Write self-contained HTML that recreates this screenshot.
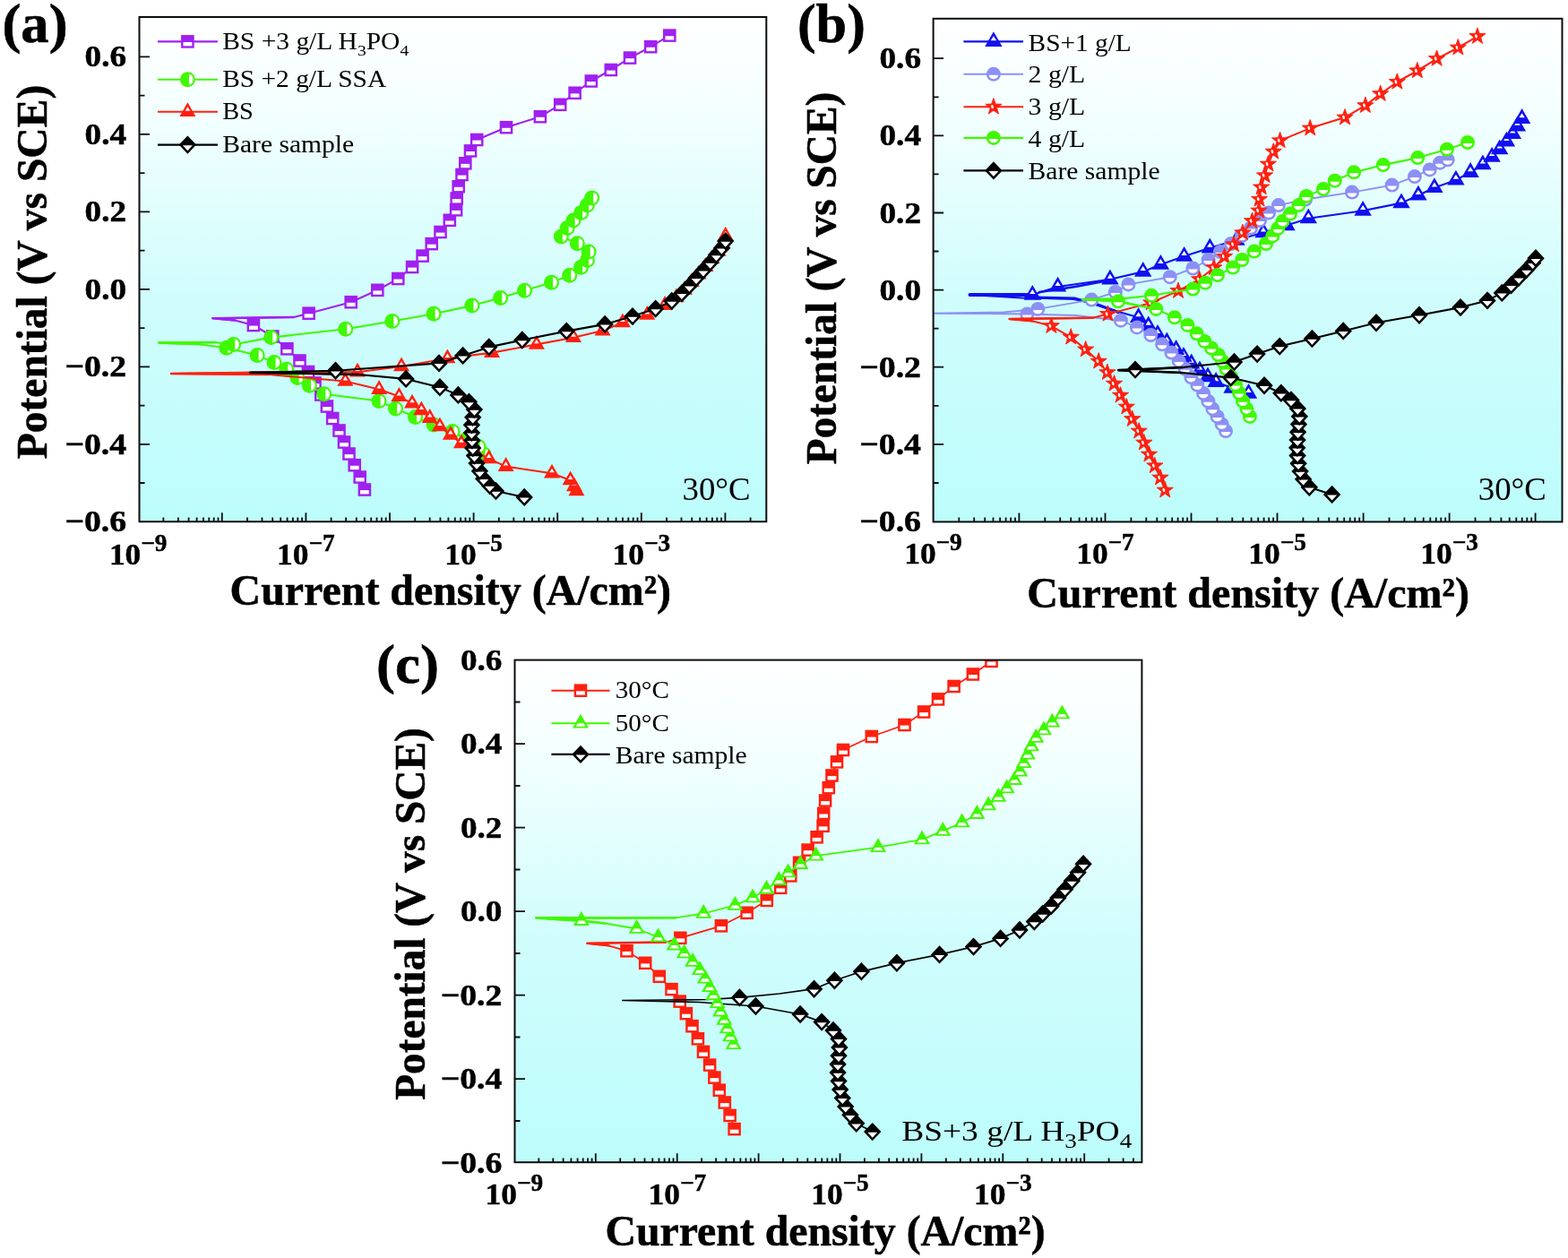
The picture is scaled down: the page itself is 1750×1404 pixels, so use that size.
<!DOCTYPE html>
<html lang="en"><head><meta charset="utf-8"><title>Potentiodynamic polarization curves</title>
<style>
html,body{margin:0;padding:0;background:#fff}
body{width:1750px;height:1404px;overflow:hidden}
svg{display:block}
text{font-family:"Liberation Serif",serif;fill:#000}
.tk{font-weight:bold;font-size:34.5px;stroke:#000;stroke-width:0.5px}
.sup{font-size:26.5px}
.ax{font-weight:bold;font-size:47.5px;stroke:#000;stroke-width:0.55px}
.pl{font-weight:bold;font-size:60.5px;stroke:#000;stroke-width:0.6px}
.lg{font-size:26.4px}
.sb{font-size:17.5px}
.nt{font-size:35.5px}
.nc{font-size:32.5px}
.sc{font-size:23.5px}
</style></head><body>
<svg width="1750" height="1404" viewBox="0 0 1750 1404" role="img" aria-label="Potentiodynamic polarization curves, panels a, b and c">
<defs><filter id="soft" x="-2%" y="-2%" width="104%" height="104%" color-interpolation-filters="sRGB"><feGaussianBlur stdDeviation="0.7"/></filter><linearGradient id="bg" x1="0" y1="0" x2="0" y2="1"><stop offset="0" stop-color="#ffffff"/><stop offset="0.18" stop-color="#f4ffff"/><stop offset="0.55" stop-color="#d0fdfc"/><stop offset="1" stop-color="#bcfdfc"/></linearGradient></defs>
<rect width="1750" height="1404" fill="#fff"/>
<g filter="url(#soft)">
<g id="panel-a">
<rect x="155.5" y="19" width="699.8" height="563.2" fill="url(#bg)"/>
<clipPath id="cpa"><rect x="155.5" y="19" width="699.8" height="563.2"/></clipPath>
<g clip-path="url(#cpa)">
<path d="M406.9 546.5L401.7 532.5L395.7 519.2L389.5 506.5L384 493.5L378.5 480.5L371.2 467L364.9 453.5L358.3 440.5L351.5 427.5L344 415L334.5 402.5L320.4 389.3L304.3 375.5L282.9 363L262 357.5L237.4 355.2L328 354L344.6 349.7L391.7 337.2L421.3 323.8L444.3 311L460.1 298L471.6 285.6L481.7 272.1L491.5 259L501.8 245.8L509.1 234.3L509.7 221.5L511.7 208.2L515.5 195L519.3 182.3L525 168.4L532.2 156L565 142.2L602.9 130.2L625.2 116.8L641.6 103.8L659.8 90.5L681.8 78L703 64.6L726.2 52.2L747.3 39.6" fill="none" stroke="#a020f0" stroke-width="2.1" stroke-linejoin="round"/>
<path d="M262 357.5L237.4 355.2L328 354" fill="none" stroke="#a020f0" stroke-width="2.6" stroke-linejoin="round" stroke-linecap="round"/>
<rect x="399.6" y="539.2" width="14.6" height="14.6" fill="#a020f0"/><rect x="402" y="547.1" width="9.8" height="4.3" fill="#fff"/><rect x="394.4" y="525.2" width="14.6" height="14.6" fill="#a020f0"/><rect x="396.8" y="533.1" width="9.8" height="4.3" fill="#fff"/><rect x="388.4" y="511.9" width="14.6" height="14.6" fill="#a020f0"/><rect x="390.8" y="519.8" width="9.8" height="4.3" fill="#fff"/><rect x="382.2" y="499.2" width="14.6" height="14.6" fill="#a020f0"/><rect x="384.6" y="507.1" width="9.8" height="4.3" fill="#fff"/><rect x="376.7" y="486.2" width="14.6" height="14.6" fill="#a020f0"/><rect x="379.1" y="494.1" width="9.8" height="4.3" fill="#fff"/><rect x="371.2" y="473.2" width="14.6" height="14.6" fill="#a020f0"/><rect x="373.6" y="481.1" width="9.8" height="4.3" fill="#fff"/><rect x="363.9" y="459.7" width="14.6" height="14.6" fill="#a020f0"/><rect x="366.3" y="467.6" width="9.8" height="4.3" fill="#fff"/><rect x="357.6" y="446.2" width="14.6" height="14.6" fill="#a020f0"/><rect x="360" y="454.1" width="9.8" height="4.3" fill="#fff"/><rect x="351" y="433.2" width="14.6" height="14.6" fill="#a020f0"/><rect x="353.4" y="441.1" width="9.8" height="4.3" fill="#fff"/><rect x="344.2" y="420.2" width="14.6" height="14.6" fill="#a020f0"/><rect x="346.6" y="428.1" width="9.8" height="4.3" fill="#fff"/><rect x="336.7" y="407.7" width="14.6" height="14.6" fill="#a020f0"/><rect x="339.1" y="415.6" width="9.8" height="4.3" fill="#fff"/><rect x="327.2" y="395.2" width="14.6" height="14.6" fill="#a020f0"/><rect x="329.6" y="403.1" width="9.8" height="4.3" fill="#fff"/><rect x="313.1" y="382" width="14.6" height="14.6" fill="#a020f0"/><rect x="315.5" y="389.9" width="9.8" height="4.3" fill="#fff"/><rect x="297" y="368.2" width="14.6" height="14.6" fill="#a020f0"/><rect x="299.4" y="376.1" width="9.8" height="4.3" fill="#fff"/><rect x="275.6" y="355.7" width="14.6" height="14.6" fill="#a020f0"/><rect x="278" y="363.6" width="9.8" height="4.3" fill="#fff"/><rect x="337.3" y="342.4" width="14.6" height="14.6" fill="#a020f0"/><rect x="339.7" y="350.3" width="9.8" height="4.3" fill="#fff"/><rect x="384.4" y="329.9" width="14.6" height="14.6" fill="#a020f0"/><rect x="386.8" y="337.8" width="9.8" height="4.3" fill="#fff"/><rect x="414" y="316.5" width="14.6" height="14.6" fill="#a020f0"/><rect x="416.4" y="324.4" width="9.8" height="4.3" fill="#fff"/><rect x="437" y="303.7" width="14.6" height="14.6" fill="#a020f0"/><rect x="439.4" y="311.6" width="9.8" height="4.3" fill="#fff"/><rect x="452.8" y="290.7" width="14.6" height="14.6" fill="#a020f0"/><rect x="455.2" y="298.6" width="9.8" height="4.3" fill="#fff"/><rect x="464.3" y="278.3" width="14.6" height="14.6" fill="#a020f0"/><rect x="466.7" y="286.2" width="9.8" height="4.3" fill="#fff"/><rect x="474.4" y="264.8" width="14.6" height="14.6" fill="#a020f0"/><rect x="476.8" y="272.7" width="9.8" height="4.3" fill="#fff"/><rect x="484.2" y="251.7" width="14.6" height="14.6" fill="#a020f0"/><rect x="486.6" y="259.6" width="9.8" height="4.3" fill="#fff"/><rect x="494.5" y="238.5" width="14.6" height="14.6" fill="#a020f0"/><rect x="496.9" y="246.4" width="9.8" height="4.3" fill="#fff"/><rect x="501.8" y="227" width="14.6" height="14.6" fill="#a020f0"/><rect x="504.2" y="234.9" width="9.8" height="4.3" fill="#fff"/><rect x="502.4" y="214.2" width="14.6" height="14.6" fill="#a020f0"/><rect x="504.8" y="222.1" width="9.8" height="4.3" fill="#fff"/><rect x="504.4" y="200.9" width="14.6" height="14.6" fill="#a020f0"/><rect x="506.8" y="208.8" width="9.8" height="4.3" fill="#fff"/><rect x="508.2" y="187.7" width="14.6" height="14.6" fill="#a020f0"/><rect x="510.6" y="195.6" width="9.8" height="4.3" fill="#fff"/><rect x="512" y="175" width="14.6" height="14.6" fill="#a020f0"/><rect x="514.4" y="182.9" width="9.8" height="4.3" fill="#fff"/><rect x="517.7" y="161.1" width="14.6" height="14.6" fill="#a020f0"/><rect x="520.1" y="169" width="9.8" height="4.3" fill="#fff"/><rect x="524.9" y="148.7" width="14.6" height="14.6" fill="#a020f0"/><rect x="527.3" y="156.6" width="9.8" height="4.3" fill="#fff"/><rect x="557.7" y="134.9" width="14.6" height="14.6" fill="#a020f0"/><rect x="560.1" y="142.8" width="9.8" height="4.3" fill="#fff"/><rect x="595.6" y="122.9" width="14.6" height="14.6" fill="#a020f0"/><rect x="598" y="130.8" width="9.8" height="4.3" fill="#fff"/><rect x="617.9" y="109.5" width="14.6" height="14.6" fill="#a020f0"/><rect x="620.3" y="117.4" width="9.8" height="4.3" fill="#fff"/><rect x="634.3" y="96.5" width="14.6" height="14.6" fill="#a020f0"/><rect x="636.7" y="104.4" width="9.8" height="4.3" fill="#fff"/><rect x="652.5" y="83.2" width="14.6" height="14.6" fill="#a020f0"/><rect x="654.9" y="91.1" width="9.8" height="4.3" fill="#fff"/><rect x="674.5" y="70.7" width="14.6" height="14.6" fill="#a020f0"/><rect x="676.9" y="78.6" width="9.8" height="4.3" fill="#fff"/><rect x="695.7" y="57.3" width="14.6" height="14.6" fill="#a020f0"/><rect x="698.1" y="65.2" width="9.8" height="4.3" fill="#fff"/><rect x="718.9" y="44.9" width="14.6" height="14.6" fill="#a020f0"/><rect x="721.3" y="52.8" width="9.8" height="4.3" fill="#fff"/><rect x="740" y="32.3" width="14.6" height="14.6" fill="#a020f0"/><rect x="742.4" y="40.2" width="9.8" height="4.3" fill="#fff"/>
<path d="M540 507L534 498.5L521 490L505 481.5L484 474L463.5 465.5L441.5 456L423 447.5L361.7 439.7L345.4 430.3L332 421.5L319.7 412.3L306 404.6L287.1 396.5L252.9 388.3L220 384L177.4 382.6L240 382L260.6 384.5L302.6 376.6L385.7 367.2L437.8 358.5L484 350.2L526.9 341.1L558.6 332.6L585.5 324.3L615.5 315.2L635.7 307.3L648.5 298.3L655.4 290.6L657.1 281.1L644.3 271.7L626.3 264L633.1 254.6L640 246L648.6 237.4L655.4 228.9L660.6 221.1" fill="none" stroke="#40f800" stroke-width="2.1" stroke-linejoin="round"/>
<path d="M220 384L177.4 382.6L240 382" fill="none" stroke="#40f800" stroke-width="2.6" stroke-linejoin="round" stroke-linecap="round"/>
<circle cx="540" cy="507" r="8.5" fill="#40f800"/><path d="M541.6 501A6.2 6.2 0 0 1 541.6 513Z" fill="#fff"/><circle cx="534" cy="498.5" r="8.5" fill="#40f800"/><path d="M535.6 492.5A6.2 6.2 0 0 1 535.6 504.5Z" fill="#fff"/><circle cx="521" cy="490" r="8.5" fill="#40f800"/><path d="M522.6 484A6.2 6.2 0 0 1 522.6 496Z" fill="#fff"/><circle cx="505" cy="481.5" r="8.5" fill="#40f800"/><path d="M506.6 475.5A6.2 6.2 0 0 1 506.6 487.5Z" fill="#fff"/><circle cx="484" cy="474" r="8.5" fill="#40f800"/><path d="M485.6 468A6.2 6.2 0 0 1 485.6 480Z" fill="#fff"/><circle cx="463.5" cy="465.5" r="8.5" fill="#40f800"/><path d="M465.1 459.5A6.2 6.2 0 0 1 465.1 471.5Z" fill="#fff"/><circle cx="441.5" cy="456" r="8.5" fill="#40f800"/><path d="M443.1 450A6.2 6.2 0 0 1 443.1 462Z" fill="#fff"/><circle cx="423" cy="447.5" r="8.5" fill="#40f800"/><path d="M424.6 441.5A6.2 6.2 0 0 1 424.6 453.5Z" fill="#fff"/><circle cx="361.7" cy="439.7" r="8.5" fill="#40f800"/><path d="M363.3 433.7A6.2 6.2 0 0 1 363.3 445.7Z" fill="#fff"/><circle cx="345.4" cy="430.3" r="8.5" fill="#40f800"/><path d="M347 424.3A6.2 6.2 0 0 1 347 436.3Z" fill="#fff"/><circle cx="332" cy="421.5" r="8.5" fill="#40f800"/><path d="M333.6 415.5A6.2 6.2 0 0 1 333.6 427.5Z" fill="#fff"/><circle cx="319.7" cy="412.3" r="8.5" fill="#40f800"/><path d="M321.3 406.3A6.2 6.2 0 0 1 321.3 418.3Z" fill="#fff"/><circle cx="306" cy="404.6" r="8.5" fill="#40f800"/><path d="M307.6 398.6A6.2 6.2 0 0 1 307.6 410.6Z" fill="#fff"/><circle cx="287.1" cy="396.5" r="8.5" fill="#40f800"/><path d="M288.7 390.5A6.2 6.2 0 0 1 288.7 402.5Z" fill="#fff"/><circle cx="252.9" cy="388.3" r="8.5" fill="#40f800"/><path d="M254.5 382.3A6.2 6.2 0 0 1 254.5 394.3Z" fill="#fff"/><circle cx="260.6" cy="384.5" r="8.5" fill="#40f800"/><path d="M262.2 378.5A6.2 6.2 0 0 1 262.2 390.5Z" fill="#fff"/><circle cx="302.6" cy="376.6" r="8.5" fill="#40f800"/><path d="M304.2 370.6A6.2 6.2 0 0 1 304.2 382.6Z" fill="#fff"/><circle cx="385.7" cy="367.2" r="8.5" fill="#40f800"/><path d="M387.3 361.2A6.2 6.2 0 0 1 387.3 373.2Z" fill="#fff"/><circle cx="437.8" cy="358.5" r="8.5" fill="#40f800"/><path d="M439.4 352.5A6.2 6.2 0 0 1 439.4 364.5Z" fill="#fff"/><circle cx="484" cy="350.2" r="8.5" fill="#40f800"/><path d="M485.6 344.2A6.2 6.2 0 0 1 485.6 356.2Z" fill="#fff"/><circle cx="526.9" cy="341.1" r="8.5" fill="#40f800"/><path d="M528.5 335.1A6.2 6.2 0 0 1 528.5 347.1Z" fill="#fff"/><circle cx="558.6" cy="332.6" r="8.5" fill="#40f800"/><path d="M560.2 326.6A6.2 6.2 0 0 1 560.2 338.6Z" fill="#fff"/><circle cx="585.5" cy="324.3" r="8.5" fill="#40f800"/><path d="M587.1 318.3A6.2 6.2 0 0 1 587.1 330.3Z" fill="#fff"/><circle cx="615.5" cy="315.2" r="8.5" fill="#40f800"/><path d="M617.1 309.2A6.2 6.2 0 0 1 617.1 321.2Z" fill="#fff"/><circle cx="635.7" cy="307.3" r="8.5" fill="#40f800"/><path d="M637.3 301.3A6.2 6.2 0 0 1 637.3 313.3Z" fill="#fff"/><circle cx="648.5" cy="298.3" r="8.5" fill="#40f800"/><path d="M650.1 292.3A6.2 6.2 0 0 1 650.1 304.3Z" fill="#fff"/><circle cx="655.4" cy="290.6" r="8.5" fill="#40f800"/><path d="M657 284.6A6.2 6.2 0 0 1 657 296.6Z" fill="#fff"/><circle cx="657.1" cy="281.1" r="8.5" fill="#40f800"/><path d="M658.7 275.1A6.2 6.2 0 0 1 658.7 287.1Z" fill="#fff"/><circle cx="644.3" cy="271.7" r="8.5" fill="#40f800"/><path d="M645.9 265.7A6.2 6.2 0 0 1 645.9 277.7Z" fill="#fff"/><circle cx="626.3" cy="264" r="8.5" fill="#40f800"/><path d="M627.9 258A6.2 6.2 0 0 1 627.9 270Z" fill="#fff"/><circle cx="633.1" cy="254.6" r="8.5" fill="#40f800"/><path d="M634.7 248.6A6.2 6.2 0 0 1 634.7 260.6Z" fill="#fff"/><circle cx="640" cy="246" r="8.5" fill="#40f800"/><path d="M641.6 240A6.2 6.2 0 0 1 641.6 252Z" fill="#fff"/><circle cx="648.6" cy="237.4" r="8.5" fill="#40f800"/><path d="M650.2 231.4A6.2 6.2 0 0 1 650.2 243.4Z" fill="#fff"/><circle cx="655.4" cy="228.9" r="8.5" fill="#40f800"/><path d="M657 222.9A6.2 6.2 0 0 1 657 234.9Z" fill="#fff"/><circle cx="660.6" cy="221.1" r="8.5" fill="#40f800"/><path d="M662.2 215.1A6.2 6.2 0 0 1 662.2 227.1Z" fill="#fff"/>
<path d="M643.4 548L640.9 542.9L636.6 536L616 528.3L564.6 520.6L545.7 512L530 503.6L514.9 494.9L502.9 485.5L490.9 476L479.7 466.6L470.3 458L460 450.3L445.4 442.6L423.1 434.6L385.4 425.5L300 418L191 417L350 415L399 415.2L448 409L499.4 400L549 393.6L598.9 384.4L640 376.8L672.6 369.1L694.9 360L722.3 351.5L742 340.6L754.8 332L764 323.4L771.9 314.8L779.7 306.2L787.5 297.6L794.5 289L801.5 280.4L806.5 271.8L809.7 263.2" fill="none" stroke="#ff2010" stroke-width="2.1" stroke-linejoin="round"/>
<path d="M300 418L191 417L350 415" fill="none" stroke="#ff2010" stroke-width="2.6" stroke-linejoin="round" stroke-linecap="round"/>
<polygon points="643.4,537.5 652.4,553.3 634.4,553.3" fill="#ff2010"/><polygon points="643.4,542.5 646.2,546.9 640.6,546.9" fill="#fff"/><polygon points="640.9,532.4 649.9,548.2 631.9,548.2" fill="#ff2010"/><polygon points="640.9,537.4 643.7,541.8 638.1,541.8" fill="#fff"/><polygon points="636.6,525.5 645.6,541.3 627.6,541.3" fill="#ff2010"/><polygon points="636.6,530.5 639.4,534.9 633.8,534.9" fill="#fff"/><polygon points="616,517.8 625,533.6 607,533.6" fill="#ff2010"/><polygon points="616,522.8 618.8,527.2 613.2,527.2" fill="#fff"/><polygon points="564.6,510.1 573.6,525.9 555.6,525.9" fill="#ff2010"/><polygon points="564.6,515.1 567.4,519.5 561.8,519.5" fill="#fff"/><polygon points="545.7,501.5 554.7,517.3 536.7,517.3" fill="#ff2010"/><polygon points="545.7,506.5 548.5,510.9 542.9,510.9" fill="#fff"/><polygon points="530,493.1 539,508.9 521,508.9" fill="#ff2010"/><polygon points="530,498.1 532.8,502.5 527.2,502.5" fill="#fff"/><polygon points="514.9,484.4 523.9,500.2 505.9,500.2" fill="#ff2010"/><polygon points="514.9,489.4 517.7,493.8 512.1,493.8" fill="#fff"/><polygon points="502.9,475 511.9,490.8 493.9,490.8" fill="#ff2010"/><polygon points="502.9,480 505.7,484.4 500.1,484.4" fill="#fff"/><polygon points="490.9,465.5 499.9,481.3 481.9,481.3" fill="#ff2010"/><polygon points="490.9,470.5 493.7,474.9 488.1,474.9" fill="#fff"/><polygon points="479.7,456.1 488.7,471.9 470.7,471.9" fill="#ff2010"/><polygon points="479.7,461.1 482.5,465.5 476.9,465.5" fill="#fff"/><polygon points="470.3,447.5 479.3,463.3 461.3,463.3" fill="#ff2010"/><polygon points="470.3,452.5 473.1,456.9 467.5,456.9" fill="#fff"/><polygon points="460,439.8 469,455.6 451,455.6" fill="#ff2010"/><polygon points="460,444.8 462.8,449.2 457.2,449.2" fill="#fff"/><polygon points="445.4,432.1 454.4,447.9 436.4,447.9" fill="#ff2010"/><polygon points="445.4,437.1 448.2,441.5 442.6,441.5" fill="#fff"/><polygon points="423.1,424.1 432.1,439.9 414.1,439.9" fill="#ff2010"/><polygon points="423.1,429.1 425.9,433.5 420.3,433.5" fill="#fff"/><polygon points="385.4,415 394.4,430.8 376.4,430.8" fill="#ff2010"/><polygon points="385.4,420 388.2,424.4 382.6,424.4" fill="#fff"/><polygon points="399,404.7 408,420.5 390,420.5" fill="#ff2010"/><polygon points="399,409.7 401.8,414.1 396.2,414.1" fill="#fff"/><polygon points="448,398.5 457,414.3 439,414.3" fill="#ff2010"/><polygon points="448,403.5 450.8,407.9 445.2,407.9" fill="#fff"/><polygon points="499.4,389.5 508.4,405.3 490.4,405.3" fill="#ff2010"/><polygon points="499.4,394.5 502.2,398.9 496.6,398.9" fill="#fff"/><polygon points="549,383.1 558,398.9 540,398.9" fill="#ff2010"/><polygon points="549,388.1 551.8,392.5 546.2,392.5" fill="#fff"/><polygon points="598.9,373.9 607.9,389.7 589.9,389.7" fill="#ff2010"/><polygon points="598.9,378.9 601.7,383.3 596.1,383.3" fill="#fff"/><polygon points="640,366.3 649,382.1 631,382.1" fill="#ff2010"/><polygon points="640,371.3 642.8,375.7 637.2,375.7" fill="#fff"/><polygon points="672.6,358.6 681.6,374.4 663.6,374.4" fill="#ff2010"/><polygon points="672.6,363.6 675.4,368 669.8,368" fill="#fff"/><polygon points="694.9,349.5 703.9,365.3 685.9,365.3" fill="#ff2010"/><polygon points="694.9,354.5 697.7,358.9 692.1,358.9" fill="#fff"/><polygon points="722.3,341 731.3,356.8 713.3,356.8" fill="#ff2010"/><polygon points="722.3,346 725.1,350.4 719.5,350.4" fill="#fff"/><polygon points="742,330.1 751,345.9 733,345.9" fill="#ff2010"/><polygon points="742,335.1 744.8,339.5 739.2,339.5" fill="#fff"/><polygon points="754.8,321.5 763.8,337.3 745.8,337.3" fill="#ff2010"/><polygon points="754.8,326.5 757.6,330.9 752,330.9" fill="#fff"/><polygon points="764,312.9 773,328.7 755,328.7" fill="#ff2010"/><polygon points="764,317.9 766.8,322.3 761.2,322.3" fill="#fff"/><polygon points="771.9,304.3 780.9,320.1 762.9,320.1" fill="#ff2010"/><polygon points="771.9,309.3 774.7,313.7 769.1,313.7" fill="#fff"/><polygon points="779.7,295.7 788.7,311.5 770.7,311.5" fill="#ff2010"/><polygon points="779.7,300.7 782.5,305.1 776.9,305.1" fill="#fff"/><polygon points="787.5,287.1 796.5,302.9 778.5,302.9" fill="#ff2010"/><polygon points="787.5,292.1 790.3,296.5 784.7,296.5" fill="#fff"/><polygon points="794.5,278.5 803.5,294.3 785.5,294.3" fill="#ff2010"/><polygon points="794.5,283.5 797.3,287.9 791.7,287.9" fill="#fff"/><polygon points="801.5,269.9 810.5,285.7 792.5,285.7" fill="#ff2010"/><polygon points="801.5,274.9 804.3,279.3 798.7,279.3" fill="#fff"/><polygon points="806.5,261.3 815.5,277.1 797.5,277.1" fill="#ff2010"/><polygon points="806.5,266.3 809.3,270.7 803.7,270.7" fill="#fff"/><polygon points="809.7,252.7 818.7,268.5 800.7,268.5" fill="#ff2010"/><polygon points="809.7,257.7 812.5,262.1 806.9,262.1" fill="#fff"/>
<path d="M585.2 554.9L553.4 548L546.6 542L539.7 534.3L535.4 525.7L532 517.1L529.4 508.6L527.7 500L526.9 491.4L526.4 482.9L526.4 474.3L527.7 465.7L529.4 457.1L523.4 448.6L511.4 440.9L490.9 432.3L453.1 422.9L400 418L279.4 415.7L374.5 413.8L490 405.4L516.6 396.9L545.7 387.4L582.8 379.5L632.3 369.6L675.1 361.9L706 353.1L731.7 344.6L749.7 336L760.9 327.4L769.4 318.9L777.1 310.3L784.9 301.7L792.6 293.1L799.4 284.6L805.4 276.9L809.7 269.1" fill="none" stroke="#000000" stroke-width="2.1" stroke-linejoin="round"/>
<path d="M400 418L279.4 415.7" fill="none" stroke="#000000" stroke-width="2.6" stroke-linejoin="round" stroke-linecap="round"/>
<polygon points="585.2,544.7 594.9,554.9 585.2,565.1 575.5,554.9" fill="#000000"/><polygon points="590.7,555.6 585.2,561.6 579.7,555.6" fill="#fff"/><polygon points="553.4,537.8 563.1,548 553.4,558.2 543.7,548" fill="#000000"/><polygon points="558.9,548.7 553.4,554.7 547.9,548.7" fill="#fff"/><polygon points="546.6,531.8 556.3,542 546.6,552.2 536.9,542" fill="#000000"/><polygon points="552.1,542.7 546.6,548.7 541.1,542.7" fill="#fff"/><polygon points="539.7,524.1 549.4,534.3 539.7,544.5 530,534.3" fill="#000000"/><polygon points="545.2,535 539.7,541 534.2,535" fill="#fff"/><polygon points="535.4,515.5 545.1,525.7 535.4,535.9 525.7,525.7" fill="#000000"/><polygon points="540.9,526.4 535.4,532.4 529.9,526.4" fill="#fff"/><polygon points="532,506.9 541.7,517.1 532,527.3 522.3,517.1" fill="#000000"/><polygon points="537.5,517.8 532,523.8 526.5,517.8" fill="#fff"/><polygon points="529.4,498.4 539.1,508.6 529.4,518.8 519.7,508.6" fill="#000000"/><polygon points="534.9,509.3 529.4,515.3 523.9,509.3" fill="#fff"/><polygon points="527.7,489.8 537.4,500 527.7,510.2 518,500" fill="#000000"/><polygon points="533.2,500.7 527.7,506.7 522.2,500.7" fill="#fff"/><polygon points="526.9,481.2 536.6,491.4 526.9,501.6 517.2,491.4" fill="#000000"/><polygon points="532.4,492.1 526.9,498.1 521.4,492.1" fill="#fff"/><polygon points="526.4,472.7 536.1,482.9 526.4,493.1 516.7,482.9" fill="#000000"/><polygon points="531.9,483.6 526.4,489.6 520.9,483.6" fill="#fff"/><polygon points="526.4,464.1 536.1,474.3 526.4,484.5 516.7,474.3" fill="#000000"/><polygon points="531.9,475 526.4,481 520.9,475" fill="#fff"/><polygon points="527.7,455.5 537.4,465.7 527.7,475.9 518,465.7" fill="#000000"/><polygon points="533.2,466.4 527.7,472.4 522.2,466.4" fill="#fff"/><polygon points="529.4,446.9 539.1,457.1 529.4,467.3 519.7,457.1" fill="#000000"/><polygon points="534.9,457.8 529.4,463.8 523.9,457.8" fill="#fff"/><polygon points="523.4,438.4 533.1,448.6 523.4,458.8 513.7,448.6" fill="#000000"/><polygon points="528.9,449.3 523.4,455.3 517.9,449.3" fill="#fff"/><polygon points="511.4,430.7 521.1,440.9 511.4,451.1 501.7,440.9" fill="#000000"/><polygon points="516.9,441.6 511.4,447.6 505.9,441.6" fill="#fff"/><polygon points="490.9,422.1 500.6,432.3 490.9,442.5 481.2,432.3" fill="#000000"/><polygon points="496.4,433 490.9,439 485.4,433" fill="#fff"/><polygon points="453.1,412.7 462.8,422.9 453.1,433.1 443.4,422.9" fill="#000000"/><polygon points="458.6,423.6 453.1,429.6 447.6,423.6" fill="#fff"/><polygon points="374.5,403.6 384.2,413.8 374.5,424 364.8,413.8" fill="#000000"/><polygon points="380,414.5 374.5,420.5 369,414.5" fill="#fff"/><polygon points="490,395.2 499.7,405.4 490,415.6 480.3,405.4" fill="#000000"/><polygon points="495.5,406.1 490,412.1 484.5,406.1" fill="#fff"/><polygon points="516.6,386.7 526.3,396.9 516.6,407.1 506.9,396.9" fill="#000000"/><polygon points="522.1,397.6 516.6,403.6 511.1,397.6" fill="#fff"/><polygon points="545.7,377.2 555.4,387.4 545.7,397.6 536,387.4" fill="#000000"/><polygon points="551.2,388.1 545.7,394.1 540.2,388.1" fill="#fff"/><polygon points="582.8,369.3 592.5,379.5 582.8,389.7 573.1,379.5" fill="#000000"/><polygon points="588.3,380.2 582.8,386.2 577.3,380.2" fill="#fff"/><polygon points="632.3,359.4 642,369.6 632.3,379.8 622.6,369.6" fill="#000000"/><polygon points="637.8,370.3 632.3,376.3 626.8,370.3" fill="#fff"/><polygon points="675.1,351.7 684.8,361.9 675.1,372.1 665.4,361.9" fill="#000000"/><polygon points="680.6,362.6 675.1,368.6 669.6,362.6" fill="#fff"/><polygon points="706,342.9 715.7,353.1 706,363.3 696.3,353.1" fill="#000000"/><polygon points="711.5,353.8 706,359.8 700.5,353.8" fill="#fff"/><polygon points="731.7,334.4 741.4,344.6 731.7,354.8 722,344.6" fill="#000000"/><polygon points="737.2,345.3 731.7,351.3 726.2,345.3" fill="#fff"/><polygon points="749.7,325.8 759.4,336 749.7,346.2 740,336" fill="#000000"/><polygon points="755.2,336.7 749.7,342.7 744.2,336.7" fill="#fff"/><polygon points="760.9,317.2 770.6,327.4 760.9,337.6 751.2,327.4" fill="#000000"/><polygon points="766.4,328.1 760.9,334.1 755.4,328.1" fill="#fff"/><polygon points="769.4,308.7 779.1,318.9 769.4,329.1 759.7,318.9" fill="#000000"/><polygon points="774.9,319.6 769.4,325.6 763.9,319.6" fill="#fff"/><polygon points="777.1,300.1 786.8,310.3 777.1,320.5 767.4,310.3" fill="#000000"/><polygon points="782.6,311 777.1,317 771.6,311" fill="#fff"/><polygon points="784.9,291.5 794.6,301.7 784.9,311.9 775.2,301.7" fill="#000000"/><polygon points="790.4,302.4 784.9,308.4 779.4,302.4" fill="#fff"/><polygon points="792.6,282.9 802.3,293.1 792.6,303.3 782.9,293.1" fill="#000000"/><polygon points="798.1,293.8 792.6,299.8 787.1,293.8" fill="#fff"/><polygon points="799.4,274.4 809.1,284.6 799.4,294.8 789.7,284.6" fill="#000000"/><polygon points="804.9,285.3 799.4,291.3 793.9,285.3" fill="#fff"/><polygon points="805.4,266.7 815.1,276.9 805.4,287.1 795.7,276.9" fill="#000000"/><polygon points="810.9,277.6 805.4,283.6 799.9,277.6" fill="#fff"/><polygon points="809.7,258.9 819.4,269.1 809.7,279.3 800,269.1" fill="#000000"/><polygon points="815.2,269.8 809.7,275.8 804.2,269.8" fill="#fff"/>
</g>
<path d="M155.5 539h6M155.5 495.8h11.5M155.5 452.6h6M155.5 409.3h11.5M155.5 366.1h6M155.5 322.8h11.5M155.5 279.6h6M155.5 236.3h11.5M155.5 193.1h6M155.5 149.8h11.5M155.5 106.6h6M155.5 63.3h11.5M182.4 582.2v-4.8M198.9 582.2v-4.8M210.6 582.2v-4.8M219.6 582.2v-4.8M227 582.2v-4.8M233.3 582.2v-4.8M238.7 582.2v-4.8M243.5 582.2v-4.8M247.8 582.2v-10M276 582.2v-4.8M292.5 582.2v-4.8M304.2 582.2v-4.8M313.2 582.2v-4.8M320.6 582.2v-4.8M326.9 582.2v-4.8M332.3 582.2v-4.8M337.1 582.2v-4.8M341.4 582.2v-10M369.6 582.2v-4.8M386.1 582.2v-4.8M397.8 582.2v-4.8M406.8 582.2v-4.8M414.2 582.2v-4.8M420.5 582.2v-4.8M425.9 582.2v-4.8M430.7 582.2v-4.8M435 582.2v-10M463.2 582.2v-4.8M479.7 582.2v-4.8M491.4 582.2v-4.8M500.4 582.2v-4.8M507.8 582.2v-4.8M514.1 582.2v-4.8M519.5 582.2v-4.8M524.3 582.2v-4.8M528.6 582.2v-10M556.8 582.2v-4.8M573.3 582.2v-4.8M585 582.2v-4.8M594 582.2v-4.8M601.4 582.2v-4.8M607.7 582.2v-4.8M613.1 582.2v-4.8M617.9 582.2v-4.8M622.2 582.2v-10M650.4 582.2v-4.8M666.9 582.2v-4.8M678.6 582.2v-4.8M687.6 582.2v-4.8M695 582.2v-4.8M701.3 582.2v-4.8M706.7 582.2v-4.8M711.5 582.2v-4.8M715.8 582.2v-10M744 582.2v-4.8M760.5 582.2v-4.8M772.2 582.2v-4.8M781.2 582.2v-4.8M788.6 582.2v-4.8M794.9 582.2v-4.8M800.3 582.2v-4.8M805.1 582.2v-4.8M809.4 582.2v-10M837.6 582.2v-4.8" stroke="#0d0d0d" stroke-width="1.8" fill="none"/>
<rect x="155.5" y="19" width="699.8" height="563.2" fill="none" stroke="#0d0d0d" stroke-width="2"/>
<text class="tk" x="72.4" y="593.3" textLength="68.7" lengthAdjust="spacingAndGlyphs">−0.6</text>
<text class="tk" x="72.4" y="506.8" textLength="68.7" lengthAdjust="spacingAndGlyphs">−0.4</text>
<text class="tk" x="72.4" y="420.3" textLength="68.7" lengthAdjust="spacingAndGlyphs">−0.2</text>
<text class="tk" x="94.6" y="333.8" textLength="46.5" lengthAdjust="spacingAndGlyphs">0.0</text>
<text class="tk" x="94.6" y="247.3" textLength="46.5" lengthAdjust="spacingAndGlyphs">0.2</text>
<text class="tk" x="94.6" y="160.8" textLength="46.5" lengthAdjust="spacingAndGlyphs">0.4</text>
<text class="tk" x="94.6" y="74.3" textLength="46.5" lengthAdjust="spacingAndGlyphs">0.6</text>
<text class="tk" x="121.9" y="629.5" textLength="64.5" lengthAdjust="spacingAndGlyphs">10<tspan class="sup" dy="-15">−9</tspan></text>
<text class="tk" x="309.1" y="629.5" textLength="64.5" lengthAdjust="spacingAndGlyphs">10<tspan class="sup" dy="-15">−7</tspan></text>
<text class="tk" x="496.3" y="629.5" textLength="64.5" lengthAdjust="spacingAndGlyphs">10<tspan class="sup" dy="-15">−5</tspan></text>
<text class="tk" x="683.5" y="629.5" textLength="64.5" lengthAdjust="spacingAndGlyphs">10<tspan class="sup" dy="-15">−3</tspan></text>
<text class="ax" x="256.6" y="674.9" textLength="492.4" lengthAdjust="spacingAndGlyphs">Current density (A/cm²)</text>
<text class="ax" transform="translate(52 512.3) rotate(-90)" textLength="417.5" lengthAdjust="spacingAndGlyphs">Potential (V vs SCE)</text>
<text class="pl" x="2.4" y="47.3" textLength="73.2" lengthAdjust="spacingAndGlyphs">(a)</text>
<path d="M176 46.4H242.9" stroke="#a020f0" stroke-width="2.1"/>
<rect x="202.1" y="39.1" width="14.6" height="14.6" fill="#a020f0"/><rect x="204.5" y="47" width="9.8" height="4.3" fill="#fff"/>
<text class="lg" x="248.2" y="55" textLength="208" lengthAdjust="spacingAndGlyphs">BS +3 g/L H<tspan class="sb" dy="7">3</tspan><tspan dy="-7">PO</tspan><tspan class="sb" dy="7">4</tspan></text>
<path d="M176 88.8H242.9" stroke="#40f800" stroke-width="2.1"/>
<circle cx="209.4" cy="88.8" r="8.5" fill="#40f800"/><path d="M211 82.8A6.2 6.2 0 0 1 211 94.8Z" fill="#fff"/>
<text class="lg" x="248.2" y="97" textLength="183" lengthAdjust="spacingAndGlyphs">BS +2 g/L SSA</text>
<path d="M176 124.8H242.9" stroke="#ff2010" stroke-width="2.1"/>
<polygon points="209.4,114.3 218.4,130.1 200.4,130.1" fill="#ff2010"/><polygon points="209.4,119.3 212.2,123.7 206.6,123.7" fill="#fff"/>
<text class="lg" x="248.2" y="133.4" textLength="34.6" lengthAdjust="spacingAndGlyphs">BS</text>
<path d="M176 161.6H242.9" stroke="#000000" stroke-width="2.1"/>
<polygon points="209.4,151.4 219.1,161.6 209.4,171.8 199.7,161.6" fill="#000000"/><polygon points="214.9,162.3 209.4,168.3 203.9,162.3" fill="#fff"/>
<text class="lg" x="248.2" y="170.4" textLength="147" lengthAdjust="spacingAndGlyphs">Bare sample</text>
<text class="nt" x="761.6" y="558.4" textLength="76" lengthAdjust="spacingAndGlyphs">30°C</text>
</g>
<g id="panel-b">
<rect x="1041.6" y="20.8" width="701.9" height="561.6" fill="url(#bg)"/>
<clipPath id="cpb"><rect x="1041.6" y="20.8" width="701.9" height="561.6"/></clipPath>
<g clip-path="url(#cpb)">
<path d="M1393.5 439.1L1375 433.1L1357.1 426.3L1348 420.6L1339 413.6L1329.7 405.8L1321 398.1L1312.6 390.3L1302.3 381.8L1292 373.2L1281.7 363.8L1270.6 354.3L1245 347L1210 336L1195 333.5L1140 332.5L1082.5 328.9L1140 328L1152.3 329.1L1180.6 320L1238.9 311.8L1275.7 303.2L1295.4 295.2L1321.6 286.1L1350.3 276.8L1380 268.1L1410 259.6L1436 251.6L1460.3 243.7L1521.1 235.2L1564 226.6L1582.9 218L1600.9 209.5L1624.9 200.9L1641.1 192.3L1654.9 183.7L1665.1 175.2L1673.7 166.6L1681.4 158L1688.3 149.5L1693.4 140.9L1698.6 132.3" fill="none" stroke="#1010f0" stroke-width="2.1" stroke-linejoin="round"/>
<path d="M1082.5 329L1150 329.2" fill="none" stroke="#1010f0" stroke-width="4.0" stroke-linejoin="round" stroke-linecap="round"/>
<path d="M1145 331.8L1200 333.2L1225 340L1248 348.5" fill="none" stroke="#1010f0" stroke-width="3.2" stroke-linejoin="round" stroke-linecap="round"/>
<path d="M1160 326L1200 320L1240 312.5" fill="none" stroke="#1010f0" stroke-width="2.6" stroke-linejoin="round" stroke-linecap="round"/>
<polygon points="1393.5,427.9 1403.2,444.7 1383.8,444.7" fill="#1010f0"/><polygon points="1393.5,433 1396.7,438 1390.3,438" fill="#fff"/><polygon points="1375,421.9 1384.7,438.7 1365.3,438.7" fill="#1010f0"/><polygon points="1375,427 1378.2,432 1371.8,432" fill="#fff"/><polygon points="1357.1,415.1 1366.8,431.9 1347.4,431.9" fill="#1010f0"/><polygon points="1357.1,420.2 1360.3,425.2 1353.9,425.2" fill="#fff"/><polygon points="1348,409.4 1357.7,426.2 1338.3,426.2" fill="#1010f0"/><polygon points="1348,414.5 1351.2,419.5 1344.8,419.5" fill="#fff"/><polygon points="1339,402.4 1348.7,419.2 1329.3,419.2" fill="#1010f0"/><polygon points="1339,407.5 1342.2,412.5 1335.8,412.5" fill="#fff"/><polygon points="1329.7,394.6 1339.4,411.4 1320,411.4" fill="#1010f0"/><polygon points="1329.7,399.7 1332.9,404.7 1326.5,404.7" fill="#fff"/><polygon points="1321,386.9 1330.7,403.7 1311.3,403.7" fill="#1010f0"/><polygon points="1321,392 1324.2,397 1317.8,397" fill="#fff"/><polygon points="1312.6,379.1 1322.3,395.9 1302.9,395.9" fill="#1010f0"/><polygon points="1312.6,384.2 1315.8,389.2 1309.4,389.2" fill="#fff"/><polygon points="1302.3,370.6 1312,387.4 1292.6,387.4" fill="#1010f0"/><polygon points="1302.3,375.7 1305.5,380.7 1299.1,380.7" fill="#fff"/><polygon points="1292,362 1301.7,378.8 1282.3,378.8" fill="#1010f0"/><polygon points="1292,367.1 1295.2,372.1 1288.8,372.1" fill="#fff"/><polygon points="1281.7,352.6 1291.4,369.4 1272,369.4" fill="#1010f0"/><polygon points="1281.7,357.7 1284.9,362.7 1278.5,362.7" fill="#fff"/><polygon points="1270.6,343.1 1280.3,359.9 1260.9,359.9" fill="#1010f0"/><polygon points="1270.6,348.2 1273.8,353.2 1267.4,353.2" fill="#fff"/><polygon points="1152.3,317.9 1162,334.7 1142.6,334.7" fill="#1010f0"/><polygon points="1152.3,323 1155.5,328 1149.1,328" fill="#fff"/><polygon points="1180.6,308.8 1190.3,325.6 1170.9,325.6" fill="#1010f0"/><polygon points="1180.6,313.9 1183.8,318.9 1177.4,318.9" fill="#fff"/><polygon points="1238.9,300.6 1248.6,317.4 1229.2,317.4" fill="#1010f0"/><polygon points="1238.9,305.7 1242.1,310.7 1235.7,310.7" fill="#fff"/><polygon points="1275.7,292 1285.4,308.8 1266,308.8" fill="#1010f0"/><polygon points="1275.7,297.1 1278.9,302.1 1272.5,302.1" fill="#fff"/><polygon points="1295.4,284 1305.1,300.8 1285.7,300.8" fill="#1010f0"/><polygon points="1295.4,289.1 1298.6,294.1 1292.2,294.1" fill="#fff"/><polygon points="1321.6,274.9 1331.3,291.7 1311.9,291.7" fill="#1010f0"/><polygon points="1321.6,280 1324.8,285 1318.4,285" fill="#fff"/><polygon points="1350.3,265.6 1360,282.4 1340.6,282.4" fill="#1010f0"/><polygon points="1350.3,270.7 1353.5,275.7 1347.1,275.7" fill="#fff"/><polygon points="1380,256.9 1389.7,273.7 1370.3,273.7" fill="#1010f0"/><polygon points="1380,262 1383.2,267 1376.8,267" fill="#fff"/><polygon points="1410,248.4 1419.7,265.2 1400.3,265.2" fill="#1010f0"/><polygon points="1410,253.5 1413.2,258.5 1406.8,258.5" fill="#fff"/><polygon points="1436,240.4 1445.7,257.2 1426.3,257.2" fill="#1010f0"/><polygon points="1436,245.5 1439.2,250.5 1432.8,250.5" fill="#fff"/><polygon points="1460.3,232.5 1470,249.3 1450.6,249.3" fill="#1010f0"/><polygon points="1460.3,237.6 1463.5,242.6 1457.1,242.6" fill="#fff"/><polygon points="1521.1,224 1530.8,240.8 1511.4,240.8" fill="#1010f0"/><polygon points="1521.1,229.1 1524.3,234.1 1517.9,234.1" fill="#fff"/><polygon points="1564,215.4 1573.7,232.2 1554.3,232.2" fill="#1010f0"/><polygon points="1564,220.5 1567.2,225.5 1560.8,225.5" fill="#fff"/><polygon points="1582.9,206.8 1592.6,223.6 1573.2,223.6" fill="#1010f0"/><polygon points="1582.9,211.9 1586.1,216.9 1579.7,216.9" fill="#fff"/><polygon points="1600.9,198.3 1610.6,215.1 1591.2,215.1" fill="#1010f0"/><polygon points="1600.9,203.4 1604.1,208.4 1597.7,208.4" fill="#fff"/><polygon points="1624.9,189.7 1634.6,206.5 1615.2,206.5" fill="#1010f0"/><polygon points="1624.9,194.8 1628.1,199.8 1621.7,199.8" fill="#fff"/><polygon points="1641.1,181.1 1650.8,197.9 1631.4,197.9" fill="#1010f0"/><polygon points="1641.1,186.2 1644.3,191.2 1637.9,191.2" fill="#fff"/><polygon points="1654.9,172.5 1664.6,189.3 1645.2,189.3" fill="#1010f0"/><polygon points="1654.9,177.6 1658.1,182.6 1651.7,182.6" fill="#fff"/><polygon points="1665.1,164 1674.8,180.8 1655.4,180.8" fill="#1010f0"/><polygon points="1665.1,169.1 1668.3,174.1 1661.9,174.1" fill="#fff"/><polygon points="1673.7,155.4 1683.4,172.2 1664,172.2" fill="#1010f0"/><polygon points="1673.7,160.5 1676.9,165.5 1670.5,165.5" fill="#fff"/><polygon points="1681.4,146.8 1691.1,163.6 1671.7,163.6" fill="#1010f0"/><polygon points="1681.4,151.9 1684.6,156.9 1678.2,156.9" fill="#fff"/><polygon points="1688.3,138.3 1698,155.1 1678.6,155.1" fill="#1010f0"/><polygon points="1688.3,143.4 1691.5,148.4 1685.1,148.4" fill="#fff"/><polygon points="1693.4,129.7 1703.1,146.5 1683.7,146.5" fill="#1010f0"/><polygon points="1693.4,134.8 1696.6,139.8 1690.2,139.8" fill="#fff"/><polygon points="1698.6,121.1 1708.3,137.9 1688.9,137.9" fill="#1010f0"/><polygon points="1698.6,126.2 1701.8,131.2 1695.4,131.2" fill="#fff"/>
<path d="M1368 481.1L1363.7 473.4L1358.6 464.9L1353.4 456.3L1348.3 447.7L1343.1 439.1L1336.3 429.7L1329.4 421.1L1322.6 411.7L1315.7 403.1L1307.4 393.5L1297.1 384.3L1284.3 374L1268.9 365.4L1250.9 357.7L1200 352L1146.3 350.5L1100 350L1041.4 349.7L1120 348.5L1158.3 344.9L1218.3 334.6L1244.9 326L1259.4 317.4L1305.7 309.2L1331.4 299.5L1348.6 290L1362 281L1374 272L1386 263L1396 254.5L1406 246L1416 237.5L1426.9 229.1L1457 222.5L1509 214.6L1553.6 206.6L1578.9 197.1L1595.6 189.4L1607.1 181.7L1615.7 178.3" fill="none" stroke="#8c90f4" stroke-width="1.9" stroke-linejoin="round"/>
<circle cx="1368" cy="481.1" r="8" fill="#8c90f4"/><path d="M1362.7 482.1A5.4 5.4 0 0 0 1373.3 482.1Z" fill="#fff"/><circle cx="1363.7" cy="473.4" r="8" fill="#8c90f4"/><path d="M1358.4 474.4A5.4 5.4 0 0 0 1369 474.4Z" fill="#fff"/><circle cx="1358.6" cy="464.9" r="8" fill="#8c90f4"/><path d="M1353.3 465.9A5.4 5.4 0 0 0 1363.9 465.9Z" fill="#fff"/><circle cx="1353.4" cy="456.3" r="8" fill="#8c90f4"/><path d="M1348.1 457.3A5.4 5.4 0 0 0 1358.7 457.3Z" fill="#fff"/><circle cx="1348.3" cy="447.7" r="8" fill="#8c90f4"/><path d="M1343 448.7A5.4 5.4 0 0 0 1353.6 448.7Z" fill="#fff"/><circle cx="1343.1" cy="439.1" r="8" fill="#8c90f4"/><path d="M1337.8 440.1A5.4 5.4 0 0 0 1348.4 440.1Z" fill="#fff"/><circle cx="1336.3" cy="429.7" r="8" fill="#8c90f4"/><path d="M1331 430.7A5.4 5.4 0 0 0 1341.6 430.7Z" fill="#fff"/><circle cx="1329.4" cy="421.1" r="8" fill="#8c90f4"/><path d="M1324.1 422.1A5.4 5.4 0 0 0 1334.7 422.1Z" fill="#fff"/><circle cx="1322.6" cy="411.7" r="8" fill="#8c90f4"/><path d="M1317.3 412.7A5.4 5.4 0 0 0 1327.9 412.7Z" fill="#fff"/><circle cx="1315.7" cy="403.1" r="8" fill="#8c90f4"/><path d="M1310.4 404.1A5.4 5.4 0 0 0 1321 404.1Z" fill="#fff"/><circle cx="1307.4" cy="393.5" r="8" fill="#8c90f4"/><path d="M1302.1 394.5A5.4 5.4 0 0 0 1312.7 394.5Z" fill="#fff"/><circle cx="1297.1" cy="384.3" r="8" fill="#8c90f4"/><path d="M1291.8 385.3A5.4 5.4 0 0 0 1302.4 385.3Z" fill="#fff"/><circle cx="1284.3" cy="374" r="8" fill="#8c90f4"/><path d="M1279 375A5.4 5.4 0 0 0 1289.6 375Z" fill="#fff"/><circle cx="1268.9" cy="365.4" r="8" fill="#8c90f4"/><path d="M1263.6 366.4A5.4 5.4 0 0 0 1274.2 366.4Z" fill="#fff"/><circle cx="1250.9" cy="357.7" r="8" fill="#8c90f4"/><path d="M1245.6 358.7A5.4 5.4 0 0 0 1256.2 358.7Z" fill="#fff"/><circle cx="1146.3" cy="350.5" r="8" fill="#8c90f4"/><path d="M1141 351.5A5.4 5.4 0 0 0 1151.6 351.5Z" fill="#fff"/><circle cx="1158.3" cy="344.9" r="8" fill="#8c90f4"/><path d="M1153 345.9A5.4 5.4 0 0 0 1163.6 345.9Z" fill="#fff"/><circle cx="1218.3" cy="334.6" r="8" fill="#8c90f4"/><path d="M1213 335.6A5.4 5.4 0 0 0 1223.6 335.6Z" fill="#fff"/><circle cx="1244.9" cy="326" r="8" fill="#8c90f4"/><path d="M1239.6 327A5.4 5.4 0 0 0 1250.2 327Z" fill="#fff"/><circle cx="1259.4" cy="317.4" r="8" fill="#8c90f4"/><path d="M1254.1 318.4A5.4 5.4 0 0 0 1264.7 318.4Z" fill="#fff"/><circle cx="1305.7" cy="309.2" r="8" fill="#8c90f4"/><path d="M1300.4 310.2A5.4 5.4 0 0 0 1311 310.2Z" fill="#fff"/><circle cx="1331.4" cy="299.5" r="8" fill="#8c90f4"/><path d="M1326.1 300.5A5.4 5.4 0 0 0 1336.7 300.5Z" fill="#fff"/><circle cx="1348.6" cy="290" r="8" fill="#8c90f4"/><path d="M1343.3 291A5.4 5.4 0 0 0 1353.9 291Z" fill="#fff"/><circle cx="1362" cy="281" r="8" fill="#8c90f4"/><path d="M1356.7 282A5.4 5.4 0 0 0 1367.3 282Z" fill="#fff"/><circle cx="1374" cy="272" r="8" fill="#8c90f4"/><path d="M1368.7 273A5.4 5.4 0 0 0 1379.3 273Z" fill="#fff"/><circle cx="1386" cy="263" r="8" fill="#8c90f4"/><path d="M1380.7 264A5.4 5.4 0 0 0 1391.3 264Z" fill="#fff"/><circle cx="1396" cy="254.5" r="8" fill="#8c90f4"/><path d="M1390.7 255.5A5.4 5.4 0 0 0 1401.3 255.5Z" fill="#fff"/><circle cx="1406" cy="246" r="8" fill="#8c90f4"/><path d="M1400.7 247A5.4 5.4 0 0 0 1411.3 247Z" fill="#fff"/><circle cx="1416" cy="237.5" r="8" fill="#8c90f4"/><path d="M1410.7 238.5A5.4 5.4 0 0 0 1421.3 238.5Z" fill="#fff"/><circle cx="1426.9" cy="229.1" r="8" fill="#8c90f4"/><path d="M1421.6 230.1A5.4 5.4 0 0 0 1432.2 230.1Z" fill="#fff"/><circle cx="1457" cy="222.5" r="8" fill="#8c90f4"/><path d="M1451.7 223.5A5.4 5.4 0 0 0 1462.3 223.5Z" fill="#fff"/><circle cx="1509" cy="214.6" r="8" fill="#8c90f4"/><path d="M1503.7 215.6A5.4 5.4 0 0 0 1514.3 215.6Z" fill="#fff"/><circle cx="1553.6" cy="206.6" r="8" fill="#8c90f4"/><path d="M1548.3 207.6A5.4 5.4 0 0 0 1558.9 207.6Z" fill="#fff"/><circle cx="1578.9" cy="197.1" r="8" fill="#8c90f4"/><path d="M1573.6 198.1A5.4 5.4 0 0 0 1584.2 198.1Z" fill="#fff"/><circle cx="1595.6" cy="189.4" r="8" fill="#8c90f4"/><path d="M1590.3 190.4A5.4 5.4 0 0 0 1600.9 190.4Z" fill="#fff"/><circle cx="1607.1" cy="181.7" r="8" fill="#8c90f4"/><path d="M1601.8 182.7A5.4 5.4 0 0 0 1612.4 182.7Z" fill="#fff"/><circle cx="1615.7" cy="178.3" r="8" fill="#8c90f4"/><path d="M1610.4 179.3A5.4 5.4 0 0 0 1621 179.3Z" fill="#fff"/>
<path d="M1300.3 547.1L1295 533.2L1288.8 519.9L1282.5 507.2L1276.8 494.2L1271.2 481.2L1263.7 467.7L1257.3 454.2L1250.5 441.2L1243.6 428.2L1235.9 415.7L1226.2 403.2L1211.7 390.1L1195.2 376.3L1173.3 363.8L1151.9 358.3L1126.7 356L1219.5 354.8L1236.5 350.5L1284.7 338L1315 324.6L1338.6 311.8L1354.8 298.8L1366.6 286.4L1376.9 272.9L1386.9 259.8L1397.5 246.7L1405 235.2L1405.6 222.4L1407.6 209.1L1411.5 195.9L1415.4 183.2L1421.3 169.3L1428.6 156.9L1462.2 143.1L1501 131.1L1523.9 117.7L1540.7 104.8L1559.3 91.5L1581.8 79L1603.6 65.6L1627.3 53.2L1648.9 40.6" fill="none" stroke="#ff2010" stroke-width="2.1" stroke-linejoin="round"/>
<path d="M1151.9 358.3L1126.7 356L1219.5 354.8" fill="none" stroke="#ff2010" stroke-width="2.6" stroke-linejoin="round" stroke-linecap="round"/>
<polygon points="1300.3,537.5 1302.6,544 1309.4,544.2 1304,548.4 1305.9,554.9 1300.3,551.1 1294.7,554.9 1296.6,548.4 1291.2,544.2 1298,544" fill="#ff2010" stroke="#ff2010" stroke-width="0.9" stroke-linejoin="round"/><ellipse cx="1298.9" cy="546.9" rx="1.3" ry="2.2" transform="rotate(-15 1298.9 546.9)" fill="#fff"/><polygon points="1295,523.6 1297.3,530 1304.1,530.2 1298.7,534.4 1300.6,540.9 1295,537.1 1289.3,540.9 1291.2,534.4 1285.8,530.2 1292.7,530" fill="#ff2010" stroke="#ff2010" stroke-width="0.9" stroke-linejoin="round"/><ellipse cx="1293.6" cy="533" rx="1.3" ry="2.2" transform="rotate(-15 1293.6 533)" fill="#fff"/><polygon points="1288.8,510.3 1291.1,516.7 1298,516.9 1292.6,521.1 1294.5,527.6 1288.8,523.8 1283.2,527.6 1285.1,521.1 1279.7,516.9 1286.5,516.7" fill="#ff2010" stroke="#ff2010" stroke-width="0.9" stroke-linejoin="round"/><ellipse cx="1287.4" cy="519.7" rx="1.3" ry="2.2" transform="rotate(-15 1287.4 519.7)" fill="#fff"/><polygon points="1282.5,497.6 1284.8,504 1291.6,504.2 1286.2,508.4 1288.1,514.9 1282.5,511.1 1276.8,514.9 1278.7,508.4 1273.4,504.2 1280.2,504" fill="#ff2010" stroke="#ff2010" stroke-width="0.9" stroke-linejoin="round"/><ellipse cx="1281.1" cy="507" rx="1.3" ry="2.2" transform="rotate(-15 1281.1 507)" fill="#fff"/><polygon points="1276.8,484.6 1279.2,491 1286,491.2 1280.6,495.4 1282.5,501.9 1276.8,498.1 1271.2,501.9 1273.1,495.4 1267.7,491.2 1274.5,491" fill="#ff2010" stroke="#ff2010" stroke-width="0.9" stroke-linejoin="round"/><ellipse cx="1275.4" cy="494" rx="1.3" ry="2.2" transform="rotate(-15 1275.4 494)" fill="#fff"/><polygon points="1271.2,471.6 1273.5,478 1280.3,478.2 1275,482.4 1276.9,489 1271.2,485.1 1265.6,489 1267.5,482.4 1262.1,478.2 1268.9,478" fill="#ff2010" stroke="#ff2010" stroke-width="0.9" stroke-linejoin="round"/><ellipse cx="1269.8" cy="481" rx="1.3" ry="2.2" transform="rotate(-15 1269.8 481)" fill="#fff"/><polygon points="1263.7,458.1 1266.1,464.5 1272.9,464.7 1267.5,468.9 1269.4,475.5 1263.7,471.6 1258.1,475.5 1260,468.9 1254.6,464.7 1261.4,464.5" fill="#ff2010" stroke="#ff2010" stroke-width="0.9" stroke-linejoin="round"/><ellipse cx="1262.3" cy="467.5" rx="1.3" ry="2.2" transform="rotate(-15 1262.3 467.5)" fill="#fff"/><polygon points="1257.3,444.6 1259.6,451 1266.4,451.2 1261,455.4 1262.9,462 1257.3,458.1 1251.6,462 1253.5,455.4 1248.2,451.2 1255,451" fill="#ff2010" stroke="#ff2010" stroke-width="0.9" stroke-linejoin="round"/><ellipse cx="1255.9" cy="454" rx="1.3" ry="2.2" transform="rotate(-15 1255.9 454)" fill="#fff"/><polygon points="1250.5,431.6 1252.8,438 1259.7,438.3 1254.3,442.4 1256.2,449 1250.5,445.2 1244.9,449 1246.8,442.4 1241.4,438.3 1248.2,438" fill="#ff2010" stroke="#ff2010" stroke-width="0.9" stroke-linejoin="round"/><ellipse cx="1249.1" cy="441" rx="1.3" ry="2.2" transform="rotate(-15 1249.1 441)" fill="#fff"/><polygon points="1243.6,418.6 1245.9,425 1252.7,425.3 1247.3,429.4 1249.2,436 1243.6,432.2 1237.9,436 1239.8,429.4 1234.4,425.3 1241.3,425" fill="#ff2010" stroke="#ff2010" stroke-width="0.9" stroke-linejoin="round"/><ellipse cx="1242.2" cy="428" rx="1.3" ry="2.2" transform="rotate(-15 1242.2 428)" fill="#fff"/><polygon points="1235.9,406.1 1238.2,412.6 1245,412.8 1239.6,417 1241.5,423.5 1235.9,419.7 1230.2,423.5 1232.1,417 1226.8,412.8 1233.6,412.6" fill="#ff2010" stroke="#ff2010" stroke-width="0.9" stroke-linejoin="round"/><ellipse cx="1234.5" cy="415.5" rx="1.3" ry="2.2" transform="rotate(-15 1234.5 415.5)" fill="#fff"/><polygon points="1226.2,393.6 1228.5,400.1 1235.3,400.3 1229.9,404.5 1231.8,411 1226.2,407.2 1220.5,411 1222.4,404.5 1217,400.3 1223.8,400.1" fill="#ff2010" stroke="#ff2010" stroke-width="0.9" stroke-linejoin="round"/><ellipse cx="1224.8" cy="403" rx="1.3" ry="2.2" transform="rotate(-15 1224.8 403)" fill="#fff"/><polygon points="1211.7,380.5 1214,386.9 1220.8,387.1 1215.5,391.3 1217.4,397.8 1211.7,394 1206.1,397.8 1208,391.3 1202.6,387.1 1209.4,386.9" fill="#ff2010" stroke="#ff2010" stroke-width="0.9" stroke-linejoin="round"/><ellipse cx="1210.3" cy="389.9" rx="1.3" ry="2.2" transform="rotate(-15 1210.3 389.9)" fill="#fff"/><polygon points="1195.2,366.7 1197.5,373.1 1204.4,373.3 1199,377.5 1200.9,384 1195.2,380.2 1189.6,384 1191.5,377.5 1186.1,373.3 1192.9,373.1" fill="#ff2010" stroke="#ff2010" stroke-width="0.9" stroke-linejoin="round"/><ellipse cx="1193.8" cy="376.1" rx="1.3" ry="2.2" transform="rotate(-15 1193.8 376.1)" fill="#fff"/><polygon points="1173.3,354.2 1175.6,360.6 1182.4,360.8 1177.1,365 1179,371.5 1173.3,367.7 1167.7,371.5 1169.6,365 1164.2,360.8 1171,360.6" fill="#ff2010" stroke="#ff2010" stroke-width="0.9" stroke-linejoin="round"/><ellipse cx="1171.9" cy="363.6" rx="1.3" ry="2.2" transform="rotate(-15 1171.9 363.6)" fill="#fff"/><polygon points="1236.5,340.9 1238.8,347.3 1245.6,347.5 1240.2,351.7 1242.1,358.2 1236.5,354.4 1230.9,358.2 1232.8,351.7 1227.4,347.5 1234.2,347.3" fill="#ff2010" stroke="#ff2010" stroke-width="0.9" stroke-linejoin="round"/><ellipse cx="1235.1" cy="350.3" rx="1.3" ry="2.2" transform="rotate(-15 1235.1 350.3)" fill="#fff"/><polygon points="1284.7,328.4 1287,334.8 1293.9,335 1288.5,339.2 1290.4,345.8 1284.7,341.9 1279.1,345.8 1281,339.2 1275.6,335 1282.4,334.8" fill="#ff2010" stroke="#ff2010" stroke-width="0.9" stroke-linejoin="round"/><ellipse cx="1283.3" cy="337.8" rx="1.3" ry="2.2" transform="rotate(-15 1283.3 337.8)" fill="#fff"/><polygon points="1315,315 1317.4,321.4 1324.2,321.6 1318.8,325.8 1320.7,332.4 1315,328.5 1309.4,332.4 1311.3,325.8 1305.9,321.6 1312.7,321.4" fill="#ff2010" stroke="#ff2010" stroke-width="0.9" stroke-linejoin="round"/><ellipse cx="1313.6" cy="324.4" rx="1.3" ry="2.2" transform="rotate(-15 1313.6 324.4)" fill="#fff"/><polygon points="1338.6,302.2 1340.9,308.6 1347.7,308.8 1342.3,313 1344.2,319.6 1338.6,315.7 1333,319.6 1334.9,313 1329.5,308.8 1336.3,308.6" fill="#ff2010" stroke="#ff2010" stroke-width="0.9" stroke-linejoin="round"/><ellipse cx="1337.2" cy="311.6" rx="1.3" ry="2.2" transform="rotate(-15 1337.2 311.6)" fill="#fff"/><polygon points="1354.8,289.2 1357.1,295.6 1363.9,295.9 1358.5,300 1360.4,306.6 1354.8,302.8 1349.1,306.6 1351,300 1345.7,295.9 1352.5,295.6" fill="#ff2010" stroke="#ff2010" stroke-width="0.9" stroke-linejoin="round"/><ellipse cx="1353.4" cy="298.6" rx="1.3" ry="2.2" transform="rotate(-15 1353.4 298.6)" fill="#fff"/><polygon points="1366.6,276.8 1368.9,283.2 1375.7,283.5 1370.3,287.6 1372.2,294.2 1366.6,290.4 1360.9,294.2 1362.8,287.6 1357.4,283.5 1364.3,283.2" fill="#ff2010" stroke="#ff2010" stroke-width="0.9" stroke-linejoin="round"/><ellipse cx="1365.2" cy="286.2" rx="1.3" ry="2.2" transform="rotate(-15 1365.2 286.2)" fill="#fff"/><polygon points="1376.9,263.3 1379.2,269.8 1386,270 1380.7,274.2 1382.6,280.7 1376.9,276.9 1371.3,280.7 1373.2,274.2 1367.8,270 1374.6,269.8" fill="#ff2010" stroke="#ff2010" stroke-width="0.9" stroke-linejoin="round"/><ellipse cx="1375.5" cy="272.7" rx="1.3" ry="2.2" transform="rotate(-15 1375.5 272.7)" fill="#fff"/><polygon points="1386.9,250.2 1389.3,256.7 1396.1,256.9 1390.7,261.1 1392.6,267.6 1386.9,263.8 1381.3,267.6 1383.2,261.1 1377.8,256.9 1384.6,256.7" fill="#ff2010" stroke="#ff2010" stroke-width="0.9" stroke-linejoin="round"/><ellipse cx="1385.5" cy="259.6" rx="1.3" ry="2.2" transform="rotate(-15 1385.5 259.6)" fill="#fff"/><polygon points="1397.5,237.1 1399.8,243.5 1406.6,243.7 1401.2,247.9 1403.1,254.4 1397.5,250.6 1391.9,254.4 1393.7,247.9 1388.4,243.7 1395.2,243.5" fill="#ff2010" stroke="#ff2010" stroke-width="0.9" stroke-linejoin="round"/><ellipse cx="1396.1" cy="246.5" rx="1.3" ry="2.2" transform="rotate(-15 1396.1 246.5)" fill="#fff"/><polygon points="1405,225.6 1407.3,232 1414.1,232.2 1408.7,236.4 1410.6,242.9 1405,239.1 1399.3,242.9 1401.2,236.4 1395.8,232.2 1402.7,232" fill="#ff2010" stroke="#ff2010" stroke-width="0.9" stroke-linejoin="round"/><ellipse cx="1403.6" cy="235" rx="1.3" ry="2.2" transform="rotate(-15 1403.6 235)" fill="#fff"/><polygon points="1405.6,212.8 1407.9,219.2 1414.7,219.4 1409.3,223.6 1411.2,230.1 1405.6,226.3 1399.9,230.1 1401.8,223.6 1396.5,219.4 1403.3,219.2" fill="#ff2010" stroke="#ff2010" stroke-width="0.9" stroke-linejoin="round"/><ellipse cx="1404.2" cy="222.2" rx="1.3" ry="2.2" transform="rotate(-15 1404.2 222.2)" fill="#fff"/><polygon points="1407.6,199.5 1409.9,205.9 1416.8,206.1 1411.4,210.3 1413.3,216.8 1407.6,213 1402,216.8 1403.9,210.3 1398.5,206.1 1405.3,205.9" fill="#ff2010" stroke="#ff2010" stroke-width="0.9" stroke-linejoin="round"/><ellipse cx="1406.2" cy="208.9" rx="1.3" ry="2.2" transform="rotate(-15 1406.2 208.9)" fill="#fff"/><polygon points="1411.5,186.3 1413.8,192.7 1420.7,192.9 1415.3,197.1 1417.2,203.7 1411.5,199.8 1405.9,203.7 1407.8,197.1 1402.4,192.9 1409.2,192.7" fill="#ff2010" stroke="#ff2010" stroke-width="0.9" stroke-linejoin="round"/><ellipse cx="1410.1" cy="195.7" rx="1.3" ry="2.2" transform="rotate(-15 1410.1 195.7)" fill="#fff"/><polygon points="1415.4,173.6 1417.7,180 1424.5,180.2 1419.2,184.4 1421.1,191 1415.4,187.1 1409.8,191 1411.7,184.4 1406.3,180.2 1413.1,180" fill="#ff2010" stroke="#ff2010" stroke-width="0.9" stroke-linejoin="round"/><ellipse cx="1414" cy="183" rx="1.3" ry="2.2" transform="rotate(-15 1414 183)" fill="#fff"/><polygon points="1421.3,159.7 1423.6,166.1 1430.4,166.3 1425,170.5 1426.9,177.1 1421.3,173.2 1415.6,177.1 1417.5,170.5 1412.1,166.3 1418.9,166.1" fill="#ff2010" stroke="#ff2010" stroke-width="0.9" stroke-linejoin="round"/><ellipse cx="1419.9" cy="169.1" rx="1.3" ry="2.2" transform="rotate(-15 1419.9 169.1)" fill="#fff"/><polygon points="1428.6,147.3 1430.9,153.7 1437.8,153.9 1432.4,158.1 1434.3,164.7 1428.6,160.9 1423,164.7 1424.9,158.1 1419.5,153.9 1426.3,153.7" fill="#ff2010" stroke="#ff2010" stroke-width="0.9" stroke-linejoin="round"/><ellipse cx="1427.2" cy="156.7" rx="1.3" ry="2.2" transform="rotate(-15 1427.2 156.7)" fill="#fff"/><polygon points="1462.2,133.5 1464.5,139.9 1471.3,140.2 1466,144.3 1467.9,150.9 1462.2,147.1 1456.6,150.9 1458.5,144.3 1453.1,140.2 1459.9,139.9" fill="#ff2010" stroke="#ff2010" stroke-width="0.9" stroke-linejoin="round"/><ellipse cx="1460.8" cy="142.9" rx="1.3" ry="2.2" transform="rotate(-15 1460.8 142.9)" fill="#fff"/><polygon points="1501,121.5 1503.3,127.9 1510.2,128.2 1504.8,132.3 1506.7,138.9 1501,135.1 1495.4,138.9 1497.3,132.3 1491.9,128.2 1498.7,127.9" fill="#ff2010" stroke="#ff2010" stroke-width="0.9" stroke-linejoin="round"/><ellipse cx="1499.6" cy="130.9" rx="1.3" ry="2.2" transform="rotate(-15 1499.6 130.9)" fill="#fff"/><polygon points="1523.9,108.1 1526.2,114.6 1533,114.8 1527.6,119 1529.5,125.5 1523.9,121.7 1518.2,125.5 1520.1,119 1514.7,114.8 1521.6,114.6" fill="#ff2010" stroke="#ff2010" stroke-width="0.9" stroke-linejoin="round"/><ellipse cx="1522.5" cy="117.5" rx="1.3" ry="2.2" transform="rotate(-15 1522.5 117.5)" fill="#fff"/><polygon points="1540.7,95.2 1543,101.6 1549.8,101.8 1544.4,106 1546.3,112.5 1540.7,108.7 1535,112.5 1536.9,106 1531.5,101.8 1538.4,101.6" fill="#ff2010" stroke="#ff2010" stroke-width="0.9" stroke-linejoin="round"/><ellipse cx="1539.3" cy="104.6" rx="1.3" ry="2.2" transform="rotate(-15 1539.3 104.6)" fill="#fff"/><polygon points="1559.3,81.9 1561.6,88.3 1568.4,88.5 1563.1,92.7 1565,99.2 1559.3,95.4 1553.7,99.2 1555.6,92.7 1550.2,88.5 1557,88.3" fill="#ff2010" stroke="#ff2010" stroke-width="0.9" stroke-linejoin="round"/><ellipse cx="1557.9" cy="91.3" rx="1.3" ry="2.2" transform="rotate(-15 1557.9 91.3)" fill="#fff"/><polygon points="1581.8,69.4 1584.2,75.8 1591,76 1585.6,80.2 1587.5,86.7 1581.8,82.9 1576.2,86.7 1578.1,80.2 1572.7,76 1579.5,75.8" fill="#ff2010" stroke="#ff2010" stroke-width="0.9" stroke-linejoin="round"/><ellipse cx="1580.4" cy="78.8" rx="1.3" ry="2.2" transform="rotate(-15 1580.4 78.8)" fill="#fff"/><polygon points="1603.6,56 1605.9,62.4 1612.7,62.6 1607.3,66.8 1609.2,73.3 1603.6,69.5 1597.9,73.3 1599.8,66.8 1594.4,62.6 1601.2,62.4" fill="#ff2010" stroke="#ff2010" stroke-width="0.9" stroke-linejoin="round"/><ellipse cx="1602.2" cy="65.4" rx="1.3" ry="2.2" transform="rotate(-15 1602.2 65.4)" fill="#fff"/><polygon points="1627.3,43.6 1629.6,50 1636.4,50.2 1631.1,54.4 1633,61 1627.3,57.1 1621.7,61 1623.6,54.4 1618.2,50.2 1625,50" fill="#ff2010" stroke="#ff2010" stroke-width="0.9" stroke-linejoin="round"/><ellipse cx="1625.9" cy="53" rx="1.3" ry="2.2" transform="rotate(-15 1625.9 53)" fill="#fff"/><polygon points="1648.9,31 1651.2,37.4 1658.1,37.6 1652.7,41.8 1654.6,48.4 1648.9,44.5 1643.3,48.4 1645.2,41.8 1639.8,37.6 1646.6,37.4" fill="#ff2010" stroke="#ff2010" stroke-width="0.9" stroke-linejoin="round"/><ellipse cx="1647.5" cy="40.4" rx="1.3" ry="2.2" transform="rotate(-15 1647.5 40.4)" fill="#fff"/>
<path d="M1394.9 464.9L1391.4 456.3L1387.1 447.7L1383 438.5L1379 429.5L1374 420.5L1368.5 411.5L1364 403L1359.7 396L1352 388.5L1344.3 380.9L1335.7 372.3L1325.4 362.9L1310.9 354.3L1290.3 344.9L1270 341L1248 336.3L1225 335L1208 334.2L1250 333.5L1285.1 329.8L1331.4 322.5L1345.1 315.7L1358.9 307.1L1376 298.6L1386.3 290L1399.7 280.6L1413 272L1420.3 263.4L1426.3 254.9L1431.4 247.1L1440 238.6L1449.4 229.1L1458 218.9L1476.9 211.1L1489.7 201.7L1511.1 192.3L1543.7 184.1L1582.3 176.1L1614.9 166.7L1638 159" fill="none" stroke="#40f800" stroke-width="2.1" stroke-linejoin="round"/>
<path d="M1270 341L1248 336.3L1225 335L1208 334.2L1250 333.5" fill="none" stroke="#40f800" stroke-width="2.6" stroke-linejoin="round" stroke-linecap="round"/>
<circle cx="1394.9" cy="464.9" r="8" fill="#40f800"/><path d="M1389.6 465.9A5.4 5.4 0 0 0 1400.2 465.9Z" fill="#fff"/><circle cx="1391.4" cy="456.3" r="8" fill="#40f800"/><path d="M1386.1 457.3A5.4 5.4 0 0 0 1396.7 457.3Z" fill="#fff"/><circle cx="1387.1" cy="447.7" r="8" fill="#40f800"/><path d="M1381.8 448.7A5.4 5.4 0 0 0 1392.4 448.7Z" fill="#fff"/><circle cx="1383" cy="438.5" r="8" fill="#40f800"/><path d="M1377.7 439.5A5.4 5.4 0 0 0 1388.3 439.5Z" fill="#fff"/><circle cx="1379" cy="429.5" r="8" fill="#40f800"/><path d="M1373.7 430.5A5.4 5.4 0 0 0 1384.3 430.5Z" fill="#fff"/><circle cx="1374" cy="420.5" r="8" fill="#40f800"/><path d="M1368.7 421.5A5.4 5.4 0 0 0 1379.3 421.5Z" fill="#fff"/><circle cx="1368.5" cy="411.5" r="8" fill="#40f800"/><path d="M1363.2 412.5A5.4 5.4 0 0 0 1373.8 412.5Z" fill="#fff"/><circle cx="1364" cy="403" r="8" fill="#40f800"/><path d="M1358.7 404A5.4 5.4 0 0 0 1369.3 404Z" fill="#fff"/><circle cx="1359.7" cy="396" r="8" fill="#40f800"/><path d="M1354.4 397A5.4 5.4 0 0 0 1365 397Z" fill="#fff"/><circle cx="1352" cy="388.5" r="8" fill="#40f800"/><path d="M1346.7 389.5A5.4 5.4 0 0 0 1357.3 389.5Z" fill="#fff"/><circle cx="1344.3" cy="380.9" r="8" fill="#40f800"/><path d="M1339 381.9A5.4 5.4 0 0 0 1349.6 381.9Z" fill="#fff"/><circle cx="1335.7" cy="372.3" r="8" fill="#40f800"/><path d="M1330.4 373.3A5.4 5.4 0 0 0 1341 373.3Z" fill="#fff"/><circle cx="1325.4" cy="362.9" r="8" fill="#40f800"/><path d="M1320.1 363.9A5.4 5.4 0 0 0 1330.7 363.9Z" fill="#fff"/><circle cx="1310.9" cy="354.3" r="8" fill="#40f800"/><path d="M1305.6 355.3A5.4 5.4 0 0 0 1316.2 355.3Z" fill="#fff"/><circle cx="1290.3" cy="344.9" r="8" fill="#40f800"/><path d="M1285 345.9A5.4 5.4 0 0 0 1295.6 345.9Z" fill="#fff"/><circle cx="1248" cy="336.3" r="8" fill="#40f800"/><path d="M1242.7 337.3A5.4 5.4 0 0 0 1253.3 337.3Z" fill="#fff"/><circle cx="1285.1" cy="329.8" r="8" fill="#40f800"/><path d="M1279.8 330.8A5.4 5.4 0 0 0 1290.4 330.8Z" fill="#fff"/><circle cx="1331.4" cy="322.5" r="8" fill="#40f800"/><path d="M1326.1 323.5A5.4 5.4 0 0 0 1336.7 323.5Z" fill="#fff"/><circle cx="1345.1" cy="315.7" r="8" fill="#40f800"/><path d="M1339.8 316.7A5.4 5.4 0 0 0 1350.4 316.7Z" fill="#fff"/><circle cx="1358.9" cy="307.1" r="8" fill="#40f800"/><path d="M1353.6 308.1A5.4 5.4 0 0 0 1364.2 308.1Z" fill="#fff"/><circle cx="1376" cy="298.6" r="8" fill="#40f800"/><path d="M1370.7 299.6A5.4 5.4 0 0 0 1381.3 299.6Z" fill="#fff"/><circle cx="1386.3" cy="290" r="8" fill="#40f800"/><path d="M1381 291A5.4 5.4 0 0 0 1391.6 291Z" fill="#fff"/><circle cx="1399.7" cy="280.6" r="8" fill="#40f800"/><path d="M1394.4 281.6A5.4 5.4 0 0 0 1405 281.6Z" fill="#fff"/><circle cx="1413" cy="272" r="8" fill="#40f800"/><path d="M1407.7 273A5.4 5.4 0 0 0 1418.3 273Z" fill="#fff"/><circle cx="1420.3" cy="263.4" r="8" fill="#40f800"/><path d="M1415 264.4A5.4 5.4 0 0 0 1425.6 264.4Z" fill="#fff"/><circle cx="1426.3" cy="254.9" r="8" fill="#40f800"/><path d="M1421 255.9A5.4 5.4 0 0 0 1431.6 255.9Z" fill="#fff"/><circle cx="1431.4" cy="247.1" r="8" fill="#40f800"/><path d="M1426.1 248.1A5.4 5.4 0 0 0 1436.7 248.1Z" fill="#fff"/><circle cx="1440" cy="238.6" r="8" fill="#40f800"/><path d="M1434.7 239.6A5.4 5.4 0 0 0 1445.3 239.6Z" fill="#fff"/><circle cx="1449.4" cy="229.1" r="8" fill="#40f800"/><path d="M1444.1 230.1A5.4 5.4 0 0 0 1454.7 230.1Z" fill="#fff"/><circle cx="1458" cy="218.9" r="8" fill="#40f800"/><path d="M1452.7 219.9A5.4 5.4 0 0 0 1463.3 219.9Z" fill="#fff"/><circle cx="1476.9" cy="211.1" r="8" fill="#40f800"/><path d="M1471.6 212.1A5.4 5.4 0 0 0 1482.2 212.1Z" fill="#fff"/><circle cx="1489.7" cy="201.7" r="8" fill="#40f800"/><path d="M1484.4 202.7A5.4 5.4 0 0 0 1495 202.7Z" fill="#fff"/><circle cx="1511.1" cy="192.3" r="8" fill="#40f800"/><path d="M1505.8 193.3A5.4 5.4 0 0 0 1516.4 193.3Z" fill="#fff"/><circle cx="1543.7" cy="184.1" r="8" fill="#40f800"/><path d="M1538.4 185.1A5.4 5.4 0 0 0 1549 185.1Z" fill="#fff"/><circle cx="1582.3" cy="176.1" r="8" fill="#40f800"/><path d="M1577 177.1A5.4 5.4 0 0 0 1587.6 177.1Z" fill="#fff"/><circle cx="1614.9" cy="166.7" r="8" fill="#40f800"/><path d="M1609.6 167.7A5.4 5.4 0 0 0 1620.2 167.7Z" fill="#fff"/><circle cx="1638" cy="159" r="8" fill="#40f800"/><path d="M1632.7 160A5.4 5.4 0 0 0 1643.3 160Z" fill="#fff"/>
<path d="M1486.6 551.9L1461.3 543.7L1454.6 534.8L1451.1 526L1449.1 517.2L1448.1 508.5L1447.7 499.7L1448.1 491L1448.6 482.2L1449.4 473.5L1450.3 464.7L1448.3 455.9L1441 446.5L1429.8 438.7L1411 430.2L1373.7 421.6L1320 416L1248.3 413.1L1267 412.6L1320 410L1377.5 404L1403.1 395.1L1428.2 386.6L1464.4 378L1499.2 369.4L1536 360.3L1584 351.7L1630 343.1L1660 335.4L1676.3 326.9L1686.6 318.3L1695.1 309.7L1703.7 301.1L1710.6 293.4L1714 288.3" fill="none" stroke="#000000" stroke-width="2.1" stroke-linejoin="round"/>
<path d="M1320 416L1248.3 413.1L1267 412.6L1320 410" fill="none" stroke="#000000" stroke-width="2.6" stroke-linejoin="round" stroke-linecap="round"/>
<polygon points="1486.6,541.7 1496.3,551.9 1486.6,562.1 1476.9,551.9" fill="#000000"/><polygon points="1492.1,552.6 1486.6,558.6 1481.1,552.6" fill="#fff"/><polygon points="1461.3,533.5 1471,543.7 1461.3,553.9 1451.6,543.7" fill="#000000"/><polygon points="1466.8,544.4 1461.3,550.4 1455.8,544.4" fill="#fff"/><polygon points="1454.6,524.6 1464.3,534.8 1454.6,545 1444.9,534.8" fill="#000000"/><polygon points="1460.1,535.5 1454.6,541.5 1449.1,535.5" fill="#fff"/><polygon points="1451.1,515.8 1460.8,526 1451.1,536.2 1441.4,526" fill="#000000"/><polygon points="1456.6,526.7 1451.1,532.7 1445.6,526.7" fill="#fff"/><polygon points="1449.1,507 1458.8,517.2 1449.1,527.4 1439.4,517.2" fill="#000000"/><polygon points="1454.6,517.9 1449.1,523.9 1443.6,517.9" fill="#fff"/><polygon points="1448.1,498.3 1457.8,508.5 1448.1,518.7 1438.4,508.5" fill="#000000"/><polygon points="1453.6,509.2 1448.1,515.3 1442.6,509.2" fill="#fff"/><polygon points="1447.7,489.5 1457.4,499.7 1447.7,509.9 1438,499.7" fill="#000000"/><polygon points="1453.2,500.4 1447.7,506.5 1442.2,500.4" fill="#fff"/><polygon points="1448.1,480.8 1457.8,491 1448.1,501.2 1438.4,491" fill="#000000"/><polygon points="1453.6,491.7 1448.1,497.7 1442.6,491.7" fill="#fff"/><polygon points="1448.6,472 1458.3,482.2 1448.6,492.4 1438.9,482.2" fill="#000000"/><polygon points="1454.1,482.9 1448.6,488.9 1443.1,482.9" fill="#fff"/><polygon points="1449.4,463.3 1459.1,473.5 1449.4,483.7 1439.7,473.5" fill="#000000"/><polygon points="1454.9,474.2 1449.4,480.2 1443.9,474.2" fill="#fff"/><polygon points="1450.3,454.5 1460,464.7 1450.3,474.9 1440.6,464.7" fill="#000000"/><polygon points="1455.8,465.4 1450.3,471.4 1444.8,465.4" fill="#fff"/><polygon points="1448.3,445.7 1458,455.9 1448.3,466.1 1438.6,455.9" fill="#000000"/><polygon points="1453.8,456.6 1448.3,462.6 1442.8,456.6" fill="#fff"/><polygon points="1441,436.3 1450.7,446.5 1441,456.7 1431.3,446.5" fill="#000000"/><polygon points="1446.5,447.2 1441,453.2 1435.5,447.2" fill="#fff"/><polygon points="1429.8,428.5 1439.5,438.7 1429.8,448.9 1420.1,438.7" fill="#000000"/><polygon points="1435.3,439.4 1429.8,445.4 1424.3,439.4" fill="#fff"/><polygon points="1411,420 1420.7,430.2 1411,440.4 1401.3,430.2" fill="#000000"/><polygon points="1416.5,430.9 1411,436.9 1405.5,430.9" fill="#fff"/><polygon points="1373.7,411.4 1383.4,421.6 1373.7,431.8 1364,421.6" fill="#000000"/><polygon points="1379.2,422.3 1373.7,428.3 1368.2,422.3" fill="#fff"/><polygon points="1267,402.4 1276.7,412.6 1267,422.8 1257.3,412.6" fill="#000000"/><polygon points="1272.5,413.3 1267,419.3 1261.5,413.3" fill="#fff"/><polygon points="1377.5,393.8 1387.2,404 1377.5,414.2 1367.8,404" fill="#000000"/><polygon points="1383,404.7 1377.5,410.7 1372,404.7" fill="#fff"/><polygon points="1403.1,384.9 1412.8,395.1 1403.1,405.3 1393.4,395.1" fill="#000000"/><polygon points="1408.6,395.8 1403.1,401.8 1397.6,395.8" fill="#fff"/><polygon points="1428.2,376.4 1437.9,386.6 1428.2,396.8 1418.5,386.6" fill="#000000"/><polygon points="1433.7,387.3 1428.2,393.3 1422.7,387.3" fill="#fff"/><polygon points="1464.4,367.8 1474.1,378 1464.4,388.2 1454.7,378" fill="#000000"/><polygon points="1469.9,378.7 1464.4,384.7 1458.9,378.7" fill="#fff"/><polygon points="1499.2,359.2 1508.9,369.4 1499.2,379.6 1489.5,369.4" fill="#000000"/><polygon points="1504.7,370.1 1499.2,376.1 1493.7,370.1" fill="#fff"/><polygon points="1536,350.1 1545.7,360.3 1536,370.5 1526.3,360.3" fill="#000000"/><polygon points="1541.5,361 1536,367 1530.5,361" fill="#fff"/><polygon points="1584,341.5 1593.7,351.7 1584,361.9 1574.3,351.7" fill="#000000"/><polygon points="1589.5,352.4 1584,358.4 1578.5,352.4" fill="#fff"/><polygon points="1630,332.9 1639.7,343.1 1630,353.3 1620.3,343.1" fill="#000000"/><polygon points="1635.5,343.8 1630,349.8 1624.5,343.8" fill="#fff"/><polygon points="1660,325.2 1669.7,335.4 1660,345.6 1650.3,335.4" fill="#000000"/><polygon points="1665.5,336.1 1660,342.1 1654.5,336.1" fill="#fff"/><polygon points="1676.3,316.7 1686,326.9 1676.3,337.1 1666.6,326.9" fill="#000000"/><polygon points="1681.8,327.6 1676.3,333.6 1670.8,327.6" fill="#fff"/><polygon points="1686.6,308.1 1696.3,318.3 1686.6,328.5 1676.9,318.3" fill="#000000"/><polygon points="1692.1,319 1686.6,325 1681.1,319" fill="#fff"/><polygon points="1695.1,299.5 1704.8,309.7 1695.1,319.9 1685.4,309.7" fill="#000000"/><polygon points="1700.6,310.4 1695.1,316.4 1689.6,310.4" fill="#fff"/><polygon points="1703.7,290.9 1713.4,301.1 1703.7,311.3 1694,301.1" fill="#000000"/><polygon points="1709.2,301.8 1703.7,307.8 1698.2,301.8" fill="#fff"/><polygon points="1710.6,283.2 1720.3,293.4 1710.6,303.6 1700.9,293.4" fill="#000000"/><polygon points="1716.1,294.1 1710.6,300.1 1705.1,294.1" fill="#fff"/><polygon points="1714,278.1 1723.7,288.3 1714,298.5 1704.3,288.3" fill="#000000"/><polygon points="1719.5,289 1714,295 1708.5,289" fill="#fff"/>
</g>
<path d="M1041.6 539h6M1041.6 495.9h11.5M1041.6 452.8h6M1041.6 409.7h11.5M1041.6 366.7h6M1041.6 323.6h11.5M1041.6 280.5h6M1041.6 237.5h11.5M1041.6 194.4h6M1041.6 151.3h11.5M1041.6 108.3h6M1041.6 65.2h11.5M1070.3 582.4v-4.8M1087.2 582.4v-4.8M1099.2 582.4v-4.8M1108.5 582.4v-4.8M1116.1 582.4v-4.8M1122.6 582.4v-4.8M1128.1 582.4v-4.8M1133 582.4v-4.8M1137.4 582.4v-10M1166.3 582.4v-4.8M1183.2 582.4v-4.8M1195.2 582.4v-4.8M1204.6 582.4v-4.8M1212.2 582.4v-4.8M1218.6 582.4v-4.8M1224.2 582.4v-4.8M1229.1 582.4v-4.8M1233.5 582.4v-10M1262.4 582.4v-4.8M1279.3 582.4v-4.8M1291.3 582.4v-4.8M1300.6 582.4v-4.8M1308.2 582.4v-4.8M1314.6 582.4v-4.8M1320.2 582.4v-4.8M1325.1 582.4v-4.8M1329.5 582.4v-10M1358.4 582.4v-4.8M1375.3 582.4v-4.8M1387.3 582.4v-4.8M1396.6 582.4v-4.8M1404.2 582.4v-4.8M1410.6 582.4v-4.8M1416.2 582.4v-4.8M1421.1 582.4v-4.8M1425.5 582.4v-10M1454.4 582.4v-4.8M1471.3 582.4v-4.8M1483.3 582.4v-4.8M1492.6 582.4v-4.8M1500.2 582.4v-4.8M1506.7 582.4v-4.8M1512.2 582.4v-4.8M1517.2 582.4v-4.8M1521.6 582.4v-10M1550.5 582.4v-4.8M1567.4 582.4v-4.8M1579.4 582.4v-4.8M1588.7 582.4v-4.8M1596.3 582.4v-4.8M1602.7 582.4v-4.8M1608.3 582.4v-4.8M1613.2 582.4v-4.8M1617.6 582.4v-10M1646.5 582.4v-4.8M1663.4 582.4v-4.8M1675.4 582.4v-4.8M1684.7 582.4v-4.8M1692.3 582.4v-4.8M1698.7 582.4v-4.8M1704.3 582.4v-4.8M1709.2 582.4v-4.8M1713.6 582.4v-10" stroke="#0d0d0d" stroke-width="1.8" fill="none"/>
<rect x="1041.6" y="20.8" width="701.9" height="561.6" fill="none" stroke="#0d0d0d" stroke-width="2"/>
<text class="tk" x="959.3" y="593" textLength="68.7" lengthAdjust="spacingAndGlyphs">−0.6</text>
<text class="tk" x="959.3" y="506.9" textLength="68.7" lengthAdjust="spacingAndGlyphs">−0.4</text>
<text class="tk" x="959.3" y="420.7" textLength="68.7" lengthAdjust="spacingAndGlyphs">−0.2</text>
<text class="tk" x="981.5" y="334.6" textLength="46.5" lengthAdjust="spacingAndGlyphs">0.0</text>
<text class="tk" x="981.5" y="248.5" textLength="46.5" lengthAdjust="spacingAndGlyphs">0.2</text>
<text class="tk" x="981.5" y="162.3" textLength="46.5" lengthAdjust="spacingAndGlyphs">0.4</text>
<text class="tk" x="981.5" y="76.2" textLength="46.5" lengthAdjust="spacingAndGlyphs">0.6</text>
<text class="tk" x="1009.2" y="628.9" textLength="64.5" lengthAdjust="spacingAndGlyphs">10<tspan class="sup" dy="-15">−9</tspan></text>
<text class="tk" x="1201.2" y="628.9" textLength="64.5" lengthAdjust="spacingAndGlyphs">10<tspan class="sup" dy="-15">−7</tspan></text>
<text class="tk" x="1393.3" y="628.9" textLength="64.5" lengthAdjust="spacingAndGlyphs">10<tspan class="sup" dy="-15">−5</tspan></text>
<text class="tk" x="1585.3" y="628.9" textLength="64.5" lengthAdjust="spacingAndGlyphs">10<tspan class="sup" dy="-15">−3</tspan></text>
<text class="ax" x="1146.2" y="678.4" textLength="493.7" lengthAdjust="spacingAndGlyphs">Current density (A/cm²)</text>
<text class="ax" transform="translate(933 518.2) rotate(-90)" textLength="415.5" lengthAdjust="spacingAndGlyphs">Potential (V vs SCE)</text>
<text class="pl" x="889.9" y="47.3" textLength="76" lengthAdjust="spacingAndGlyphs">(b)</text>
<path d="M1075.4 46.4H1142" stroke="#1010f0" stroke-width="2.1"/>
<polygon points="1108.9,35.2 1118.6,52 1099.2,52" fill="#1010f0"/><polygon points="1108.9,40.3 1112.1,45.3 1105.7,45.3" fill="#fff"/>
<text class="lg" x="1147.6" y="56.7" textLength="115.2" lengthAdjust="spacingAndGlyphs">BS+1 g/L</text>
<path d="M1075.4 82.8H1142" stroke="#8c90f4" stroke-width="2.1"/>
<circle cx="1108.9" cy="82.8" r="8" fill="#8c90f4"/><path d="M1103.6 83.8A5.4 5.4 0 0 0 1114.2 83.8Z" fill="#fff"/>
<text class="lg" x="1147.6" y="91.9" textLength="63.6" lengthAdjust="spacingAndGlyphs">2 g/L</text>
<path d="M1075.4 119.3H1142" stroke="#ff2010" stroke-width="2.1"/>
<polygon points="1108.9,109.7 1111.2,116.1 1118,116.3 1112.6,120.5 1114.5,127.1 1108.9,123.2 1103.3,127.1 1105.2,120.5 1099.8,116.3 1106.6,116.1" fill="#ff2010" stroke="#ff2010" stroke-width="0.9" stroke-linejoin="round"/><ellipse cx="1107.5" cy="119.1" rx="1.3" ry="2.2" transform="rotate(-15 1107.5 119.1)" fill="#fff"/>
<text class="lg" x="1147.6" y="128.4" textLength="63.6" lengthAdjust="spacingAndGlyphs">3 g/L</text>
<path d="M1075.4 153.9H1142" stroke="#40f800" stroke-width="2.1"/>
<circle cx="1108.9" cy="153.9" r="8" fill="#40f800"/><path d="M1103.6 154.9A5.4 5.4 0 0 0 1114.2 154.9Z" fill="#fff"/>
<text class="lg" x="1147.6" y="163.9" textLength="63.6" lengthAdjust="spacingAndGlyphs">4 g/L</text>
<path d="M1075.4 190.4H1142" stroke="#000000" stroke-width="2.1"/>
<polygon points="1108.9,180.2 1118.6,190.4 1108.9,200.6 1099.2,190.4" fill="#000000"/><polygon points="1114.4,191.1 1108.9,197.1 1103.4,191.1" fill="#fff"/>
<text class="lg" x="1147.6" y="199.9" textLength="147" lengthAdjust="spacingAndGlyphs">Bare sample</text>
<text class="nt" x="1649.8" y="558.2" textLength="76" lengthAdjust="spacingAndGlyphs">30°C</text>
</g>
<g id="panel-c">
<rect x="574.5" y="736.6" width="699.9" height="560.6" fill="url(#bg)"/>
<clipPath id="cpc"><rect x="574.5" y="736.6" width="699.9" height="560.6"/></clipPath>
<g clip-path="url(#cpc)">
<path d="M819.6 1260.1L814.6 1244.9L808.8 1230.5L802.8 1216.7L797.4 1202.6L792.1 1188.6L785 1173.9L778.9 1159.3L772.5 1145.2L765.9 1131.1L758.7 1117.6L749.5 1104.1L735.8 1089.8L720.2 1074.8L699.5 1061.3L679.2 1055.3L655.4 1052.8L743.2 1051.5L759.3 1046.8L804.9 1033.3L833.6 1018.8L855.8 1004.9L871.2 990.8L882.3 977.4L892.1 962.8L901.6 948.6L911.6 934.3L918.6 921.8L919.2 907.9L921.1 893.5L924.8 879.2L928.5 865.5L934 850.4L941 837L972.8 822L1009.5 809L1031.1 794.5L1047 780.4L1064.6 766L1085.9 752.5L1106.5 737.9L1129 724.5L1149.4 710.9" fill="none" stroke="#ff2010" stroke-width="1.8" stroke-linejoin="round"/>
<path d="M679.2 1055.3L655.4 1052.8L743.2 1051.5" fill="none" stroke="#ff2010" stroke-width="2.6" stroke-linejoin="round" stroke-linecap="round"/>
<rect x="812.3" y="1252.8" width="14.6" height="14.6" fill="#ff2010"/><rect x="814.7" y="1260.7" width="9.8" height="4.3" fill="#fff"/><rect x="807.3" y="1237.6" width="14.6" height="14.6" fill="#ff2010"/><rect x="809.7" y="1245.5" width="9.8" height="4.3" fill="#fff"/><rect x="801.5" y="1223.2" width="14.6" height="14.6" fill="#ff2010"/><rect x="803.9" y="1231.1" width="9.8" height="4.3" fill="#fff"/><rect x="795.5" y="1209.4" width="14.6" height="14.6" fill="#ff2010"/><rect x="797.9" y="1217.3" width="9.8" height="4.3" fill="#fff"/><rect x="790.1" y="1195.3" width="14.6" height="14.6" fill="#ff2010"/><rect x="792.5" y="1203.2" width="9.8" height="4.3" fill="#fff"/><rect x="784.8" y="1181.3" width="14.6" height="14.6" fill="#ff2010"/><rect x="787.2" y="1189.2" width="9.8" height="4.3" fill="#fff"/><rect x="777.7" y="1166.6" width="14.6" height="14.6" fill="#ff2010"/><rect x="780.1" y="1174.5" width="9.8" height="4.3" fill="#fff"/><rect x="771.6" y="1152" width="14.6" height="14.6" fill="#ff2010"/><rect x="774" y="1159.9" width="9.8" height="4.3" fill="#fff"/><rect x="765.2" y="1137.9" width="14.6" height="14.6" fill="#ff2010"/><rect x="767.6" y="1145.8" width="9.8" height="4.3" fill="#fff"/><rect x="758.6" y="1123.8" width="14.6" height="14.6" fill="#ff2010"/><rect x="761" y="1131.7" width="9.8" height="4.3" fill="#fff"/><rect x="751.4" y="1110.3" width="14.6" height="14.6" fill="#ff2010"/><rect x="753.8" y="1118.2" width="9.8" height="4.3" fill="#fff"/><rect x="742.2" y="1096.8" width="14.6" height="14.6" fill="#ff2010"/><rect x="744.6" y="1104.7" width="9.8" height="4.3" fill="#fff"/><rect x="728.5" y="1082.5" width="14.6" height="14.6" fill="#ff2010"/><rect x="730.9" y="1090.4" width="9.8" height="4.3" fill="#fff"/><rect x="712.9" y="1067.5" width="14.6" height="14.6" fill="#ff2010"/><rect x="715.3" y="1075.4" width="9.8" height="4.3" fill="#fff"/><rect x="692.2" y="1054" width="14.6" height="14.6" fill="#ff2010"/><rect x="694.6" y="1061.9" width="9.8" height="4.3" fill="#fff"/><rect x="752" y="1039.5" width="14.6" height="14.6" fill="#ff2010"/><rect x="754.4" y="1047.4" width="9.8" height="4.3" fill="#fff"/><rect x="797.6" y="1026" width="14.6" height="14.6" fill="#ff2010"/><rect x="800" y="1033.9" width="9.8" height="4.3" fill="#fff"/><rect x="826.3" y="1011.5" width="14.6" height="14.6" fill="#ff2010"/><rect x="828.7" y="1019.4" width="9.8" height="4.3" fill="#fff"/><rect x="848.5" y="997.6" width="14.6" height="14.6" fill="#ff2010"/><rect x="850.9" y="1005.5" width="9.8" height="4.3" fill="#fff"/><rect x="863.9" y="983.5" width="14.6" height="14.6" fill="#ff2010"/><rect x="866.3" y="991.4" width="9.8" height="4.3" fill="#fff"/><rect x="875" y="970.1" width="14.6" height="14.6" fill="#ff2010"/><rect x="877.4" y="978" width="9.8" height="4.3" fill="#fff"/><rect x="884.8" y="955.5" width="14.6" height="14.6" fill="#ff2010"/><rect x="887.2" y="963.4" width="9.8" height="4.3" fill="#fff"/><rect x="894.3" y="941.3" width="14.6" height="14.6" fill="#ff2010"/><rect x="896.7" y="949.2" width="9.8" height="4.3" fill="#fff"/><rect x="904.3" y="927" width="14.6" height="14.6" fill="#ff2010"/><rect x="906.7" y="934.9" width="9.8" height="4.3" fill="#fff"/><rect x="911.3" y="914.5" width="14.6" height="14.6" fill="#ff2010"/><rect x="913.7" y="922.4" width="9.8" height="4.3" fill="#fff"/><rect x="911.9" y="900.6" width="14.6" height="14.6" fill="#ff2010"/><rect x="914.3" y="908.5" width="9.8" height="4.3" fill="#fff"/><rect x="913.8" y="886.2" width="14.6" height="14.6" fill="#ff2010"/><rect x="916.2" y="894.1" width="9.8" height="4.3" fill="#fff"/><rect x="917.5" y="871.9" width="14.6" height="14.6" fill="#ff2010"/><rect x="919.9" y="879.8" width="9.8" height="4.3" fill="#fff"/><rect x="921.2" y="858.2" width="14.6" height="14.6" fill="#ff2010"/><rect x="923.6" y="866.1" width="9.8" height="4.3" fill="#fff"/><rect x="926.7" y="843.1" width="14.6" height="14.6" fill="#ff2010"/><rect x="929.1" y="851" width="9.8" height="4.3" fill="#fff"/><rect x="933.7" y="829.7" width="14.6" height="14.6" fill="#ff2010"/><rect x="936.1" y="837.6" width="9.8" height="4.3" fill="#fff"/><rect x="965.5" y="814.7" width="14.6" height="14.6" fill="#ff2010"/><rect x="967.9" y="822.6" width="9.8" height="4.3" fill="#fff"/><rect x="1002.2" y="801.7" width="14.6" height="14.6" fill="#ff2010"/><rect x="1004.6" y="809.6" width="9.8" height="4.3" fill="#fff"/><rect x="1023.8" y="787.2" width="14.6" height="14.6" fill="#ff2010"/><rect x="1026.2" y="795.1" width="9.8" height="4.3" fill="#fff"/><rect x="1039.7" y="773.1" width="14.6" height="14.6" fill="#ff2010"/><rect x="1042.1" y="781" width="9.8" height="4.3" fill="#fff"/><rect x="1057.3" y="758.7" width="14.6" height="14.6" fill="#ff2010"/><rect x="1059.7" y="766.6" width="9.8" height="4.3" fill="#fff"/><rect x="1078.6" y="745.2" width="14.6" height="14.6" fill="#ff2010"/><rect x="1081" y="753.1" width="9.8" height="4.3" fill="#fff"/><rect x="1099.2" y="730.6" width="14.6" height="14.6" fill="#ff2010"/><rect x="1101.6" y="738.5" width="9.8" height="4.3" fill="#fff"/><rect x="1121.7" y="717.2" width="14.6" height="14.6" fill="#ff2010"/><rect x="1124.1" y="725.1" width="9.8" height="4.3" fill="#fff"/><rect x="1142.1" y="703.6" width="14.6" height="14.6" fill="#ff2010"/><rect x="1144.5" y="711.5" width="9.8" height="4.3" fill="#fff"/>
<path d="M973.7 1263.1L955.7 1253.7L948.9 1244.3L943.7 1234.9L940.3 1225.4L937.7 1216L936 1206.6L935.1 1197.1L935.1 1187.7L936 1178.3L936.9 1168.9L936 1159.4L930 1150L917.1 1140.6L893.1 1132L843.4 1123L780 1118.5L694.8 1116.5L790 1115.5L825.4 1113.4L870 1109L908.6 1103.7L931.4 1094.3L961.4 1084.3L1000.9 1074.8L1048.6 1065.4L1086.5 1056.6L1116.6 1047.4L1138 1038L1154.3 1028.6L1163.7 1020L1173.1 1011.4L1180.9 1002L1188.6 992.6L1196.3 983.1L1203.1 973.7L1209.1 964.3" fill="none" stroke="#000000" stroke-width="1.7" stroke-linejoin="round"/>
<polygon points="973.7,1252.9 983.4,1263.1 973.7,1273.3 964,1263.1" fill="#000000"/><polygon points="979.2,1263.8 973.7,1269.8 968.2,1263.8" fill="#fff"/><polygon points="955.7,1243.5 965.4,1253.7 955.7,1263.9 946,1253.7" fill="#000000"/><polygon points="961.2,1254.4 955.7,1260.4 950.2,1254.4" fill="#fff"/><polygon points="948.9,1234.1 958.6,1244.3 948.9,1254.5 939.2,1244.3" fill="#000000"/><polygon points="954.4,1245 948.9,1251 943.4,1245" fill="#fff"/><polygon points="943.7,1224.7 953.4,1234.9 943.7,1245.1 934,1234.9" fill="#000000"/><polygon points="949.2,1235.6 943.7,1241.6 938.2,1235.6" fill="#fff"/><polygon points="940.3,1215.2 950,1225.4 940.3,1235.6 930.6,1225.4" fill="#000000"/><polygon points="945.8,1226.1 940.3,1232.1 934.8,1226.1" fill="#fff"/><polygon points="937.7,1205.8 947.4,1216 937.7,1226.2 928,1216" fill="#000000"/><polygon points="943.2,1216.7 937.7,1222.7 932.2,1216.7" fill="#fff"/><polygon points="936,1196.4 945.7,1206.6 936,1216.8 926.3,1206.6" fill="#000000"/><polygon points="941.5,1207.3 936,1213.3 930.5,1207.3" fill="#fff"/><polygon points="935.1,1186.9 944.8,1197.1 935.1,1207.3 925.4,1197.1" fill="#000000"/><polygon points="940.6,1197.8 935.1,1203.8 929.6,1197.8" fill="#fff"/><polygon points="935.1,1177.5 944.8,1187.7 935.1,1197.9 925.4,1187.7" fill="#000000"/><polygon points="940.6,1188.4 935.1,1194.4 929.6,1188.4" fill="#fff"/><polygon points="936,1168.1 945.7,1178.3 936,1188.5 926.3,1178.3" fill="#000000"/><polygon points="941.5,1179 936,1185 930.5,1179" fill="#fff"/><polygon points="936.9,1158.7 946.6,1168.9 936.9,1179.1 927.2,1168.9" fill="#000000"/><polygon points="942.4,1169.6 936.9,1175.6 931.4,1169.6" fill="#fff"/><polygon points="936,1149.2 945.7,1159.4 936,1169.6 926.3,1159.4" fill="#000000"/><polygon points="941.5,1160.1 936,1166.1 930.5,1160.1" fill="#fff"/><polygon points="930,1139.8 939.7,1150 930,1160.2 920.3,1150" fill="#000000"/><polygon points="935.5,1150.7 930,1156.7 924.5,1150.7" fill="#fff"/><polygon points="917.1,1130.4 926.8,1140.6 917.1,1150.8 907.4,1140.6" fill="#000000"/><polygon points="922.6,1141.3 917.1,1147.3 911.6,1141.3" fill="#fff"/><polygon points="893.1,1121.8 902.8,1132 893.1,1142.2 883.4,1132" fill="#000000"/><polygon points="898.6,1132.7 893.1,1138.7 887.6,1132.7" fill="#fff"/><polygon points="843.4,1112.8 853.1,1123 843.4,1133.2 833.7,1123" fill="#000000"/><polygon points="848.9,1123.7 843.4,1129.7 837.9,1123.7" fill="#fff"/><polygon points="825.4,1103.2 835.1,1113.4 825.4,1123.6 815.7,1113.4" fill="#000000"/><polygon points="830.9,1114.1 825.4,1120.1 819.9,1114.1" fill="#fff"/><polygon points="908.6,1093.5 918.3,1103.7 908.6,1113.9 898.9,1103.7" fill="#000000"/><polygon points="914.1,1104.4 908.6,1110.4 903.1,1104.4" fill="#fff"/><polygon points="931.4,1084.1 941.1,1094.3 931.4,1104.5 921.7,1094.3" fill="#000000"/><polygon points="936.9,1095 931.4,1101 925.9,1095" fill="#fff"/><polygon points="961.4,1074.1 971.1,1084.3 961.4,1094.5 951.7,1084.3" fill="#000000"/><polygon points="966.9,1085 961.4,1091 955.9,1085" fill="#fff"/><polygon points="1000.9,1064.6 1010.6,1074.8 1000.9,1085 991.2,1074.8" fill="#000000"/><polygon points="1006.4,1075.5 1000.9,1081.5 995.4,1075.5" fill="#fff"/><polygon points="1048.6,1055.2 1058.3,1065.4 1048.6,1075.6 1038.9,1065.4" fill="#000000"/><polygon points="1054.1,1066.1 1048.6,1072.1 1043.1,1066.1" fill="#fff"/><polygon points="1086.5,1046.4 1096.2,1056.6 1086.5,1066.8 1076.8,1056.6" fill="#000000"/><polygon points="1092,1057.3 1086.5,1063.3 1081,1057.3" fill="#fff"/><polygon points="1116.6,1037.2 1126.3,1047.4 1116.6,1057.6 1106.9,1047.4" fill="#000000"/><polygon points="1122.1,1048.1 1116.6,1054.1 1111.1,1048.1" fill="#fff"/><polygon points="1138,1027.8 1147.7,1038 1138,1048.2 1128.3,1038" fill="#000000"/><polygon points="1143.5,1038.7 1138,1044.7 1132.5,1038.7" fill="#fff"/><polygon points="1154.3,1018.4 1164,1028.6 1154.3,1038.8 1144.6,1028.6" fill="#000000"/><polygon points="1159.8,1029.3 1154.3,1035.3 1148.8,1029.3" fill="#fff"/><polygon points="1163.7,1009.8 1173.4,1020 1163.7,1030.2 1154,1020" fill="#000000"/><polygon points="1169.2,1020.7 1163.7,1026.7 1158.2,1020.7" fill="#fff"/><polygon points="1173.1,1001.2 1182.8,1011.4 1173.1,1021.6 1163.4,1011.4" fill="#000000"/><polygon points="1178.6,1012.1 1173.1,1018.1 1167.6,1012.1" fill="#fff"/><polygon points="1180.9,991.8 1190.6,1002 1180.9,1012.2 1171.2,1002" fill="#000000"/><polygon points="1186.4,1002.7 1180.9,1008.7 1175.4,1002.7" fill="#fff"/><polygon points="1188.6,982.4 1198.3,992.6 1188.6,1002.8 1178.9,992.6" fill="#000000"/><polygon points="1194.1,993.3 1188.6,999.3 1183.1,993.3" fill="#fff"/><polygon points="1196.3,972.9 1206,983.1 1196.3,993.3 1186.6,983.1" fill="#000000"/><polygon points="1201.8,983.8 1196.3,989.8 1190.8,983.8" fill="#fff"/><polygon points="1203.1,963.5 1212.8,973.7 1203.1,983.9 1193.4,973.7" fill="#000000"/><polygon points="1208.6,974.4 1203.1,980.4 1197.6,974.4" fill="#fff"/><polygon points="1209.1,954.1 1218.8,964.3 1209.1,974.5 1199.4,964.3" fill="#000000"/><polygon points="1214.6,965 1209.1,971 1203.6,965" fill="#fff"/>
<path d="M818.6 1165.8L815.1 1157L811.7 1147.9L808.3 1138.5L804 1129.1L800.6 1119.7L796.3 1110.8L792 1101.7L786.9 1092.2L780.9 1082.8L773.1 1073.4L763.7 1063.9L752.6 1055.1L734.6 1045.9L710.6 1036.5L675 1030.5L648.9 1027.6L620 1026L598.3 1024.4L700 1024.5L753.7 1024.3L785.2 1019.5L820.4 1010.4L840.1 1001.9L855.5 992.4L869.3 982.6L879.7 974L893.4 964.6L910.6 955.2L980 945.7L1029.1 936.9L1052.3 927.4L1073.7 918L1090.4 908.6L1103.1 898.9L1114.3 889.5L1123.7 880L1132.3 870.6L1138.3 861.2L1142.6 851.7L1146.9 842.3L1151.1 832.9L1156.3 823.5L1164.9 814.9L1174.3 806.3L1185.4 796.9" fill="none" stroke="#40f800" stroke-width="1.8" stroke-linejoin="round"/>
<path d="M675 1030.5L648.9 1027.6L620 1026L598.3 1024.4L700 1024.5L753.7 1024.3" fill="none" stroke="#40f800" stroke-width="2.6" stroke-linejoin="round" stroke-linecap="round"/>
<polygon points="818.6,1155.3 827.6,1171.1 809.6,1171.1" fill="#40f800"/><polygon points="815.3,1165.8 821.9,1165.8 823.9,1169.3 813.3,1169.3" fill="#fff"/><polygon points="815.1,1146.5 824.1,1162.3 806.1,1162.3" fill="#40f800"/><polygon points="811.8,1157 818.4,1157 820.4,1160.5 809.8,1160.5" fill="#fff"/><polygon points="811.7,1137.4 820.7,1153.2 802.7,1153.2" fill="#40f800"/><polygon points="808.4,1147.9 815,1147.9 817,1151.4 806.4,1151.4" fill="#fff"/><polygon points="808.3,1128 817.3,1143.8 799.3,1143.8" fill="#40f800"/><polygon points="805,1138.5 811.6,1138.5 813.6,1142 803,1142" fill="#fff"/><polygon points="804,1118.6 813,1134.4 795,1134.4" fill="#40f800"/><polygon points="800.7,1129.1 807.3,1129.1 809.3,1132.6 798.7,1132.6" fill="#fff"/><polygon points="800.6,1109.2 809.6,1125 791.6,1125" fill="#40f800"/><polygon points="797.3,1119.7 803.9,1119.7 805.9,1123.2 795.3,1123.2" fill="#fff"/><polygon points="796.3,1100.3 805.3,1116.1 787.3,1116.1" fill="#40f800"/><polygon points="793,1110.8 799.6,1110.8 801.6,1114.3 791,1114.3" fill="#fff"/><polygon points="792,1091.2 801,1107 783,1107" fill="#40f800"/><polygon points="788.7,1101.7 795.3,1101.7 797.3,1105.2 786.7,1105.2" fill="#fff"/><polygon points="786.9,1081.7 795.9,1097.5 777.9,1097.5" fill="#40f800"/><polygon points="783.6,1092.2 790.2,1092.2 792.2,1095.7 781.6,1095.7" fill="#fff"/><polygon points="780.9,1072.3 789.9,1088.1 771.9,1088.1" fill="#40f800"/><polygon points="777.6,1082.8 784.2,1082.8 786.2,1086.3 775.6,1086.3" fill="#fff"/><polygon points="773.1,1062.9 782.1,1078.7 764.1,1078.7" fill="#40f800"/><polygon points="769.8,1073.4 776.4,1073.4 778.4,1076.9 767.8,1076.9" fill="#fff"/><polygon points="763.7,1053.4 772.7,1069.2 754.7,1069.2" fill="#40f800"/><polygon points="760.4,1063.9 767,1063.9 769,1067.4 758.4,1067.4" fill="#fff"/><polygon points="752.6,1044.6 761.6,1060.4 743.6,1060.4" fill="#40f800"/><polygon points="749.3,1055.1 755.9,1055.1 757.9,1058.6 747.3,1058.6" fill="#fff"/><polygon points="734.6,1035.4 743.6,1051.2 725.6,1051.2" fill="#40f800"/><polygon points="731.3,1045.9 737.9,1045.9 739.9,1049.4 729.3,1049.4" fill="#fff"/><polygon points="710.6,1026 719.6,1041.8 701.6,1041.8" fill="#40f800"/><polygon points="707.3,1036.5 713.9,1036.5 715.9,1040 705.3,1040" fill="#fff"/><polygon points="648.9,1017.1 657.9,1032.9 639.9,1032.9" fill="#40f800"/><polygon points="645.6,1027.6 652.2,1027.6 654.2,1031.1 643.6,1031.1" fill="#fff"/><polygon points="785.2,1009 794.2,1024.8 776.2,1024.8" fill="#40f800"/><polygon points="781.9,1019.5 788.5,1019.5 790.5,1023 779.9,1023" fill="#fff"/><polygon points="820.4,999.9 829.4,1015.7 811.4,1015.7" fill="#40f800"/><polygon points="817.1,1010.4 823.7,1010.4 825.7,1013.9 815.1,1013.9" fill="#fff"/><polygon points="840.1,991.4 849.1,1007.2 831.1,1007.2" fill="#40f800"/><polygon points="836.8,1001.9 843.4,1001.9 845.4,1005.4 834.8,1005.4" fill="#fff"/><polygon points="855.5,981.9 864.5,997.7 846.5,997.7" fill="#40f800"/><polygon points="852.2,992.4 858.8,992.4 860.8,995.9 850.2,995.9" fill="#fff"/><polygon points="869.3,972.1 878.3,987.9 860.3,987.9" fill="#40f800"/><polygon points="866,982.6 872.6,982.6 874.6,986.1 864,986.1" fill="#fff"/><polygon points="879.7,963.5 888.7,979.3 870.7,979.3" fill="#40f800"/><polygon points="876.4,974 883,974 885,977.5 874.4,977.5" fill="#fff"/><polygon points="893.4,954.1 902.4,969.9 884.4,969.9" fill="#40f800"/><polygon points="890.1,964.6 896.7,964.6 898.7,968.1 888.1,968.1" fill="#fff"/><polygon points="910.6,944.7 919.6,960.5 901.6,960.5" fill="#40f800"/><polygon points="907.3,955.2 913.9,955.2 915.9,958.7 905.3,958.7" fill="#fff"/><polygon points="980,935.2 989,951 971,951" fill="#40f800"/><polygon points="976.7,945.7 983.3,945.7 985.3,949.2 974.7,949.2" fill="#fff"/><polygon points="1029.1,926.4 1038.1,942.2 1020.1,942.2" fill="#40f800"/><polygon points="1025.8,936.9 1032.4,936.9 1034.4,940.4 1023.8,940.4" fill="#fff"/><polygon points="1052.3,916.9 1061.3,932.7 1043.3,932.7" fill="#40f800"/><polygon points="1049,927.4 1055.6,927.4 1057.6,930.9 1047,930.9" fill="#fff"/><polygon points="1073.7,907.5 1082.7,923.3 1064.7,923.3" fill="#40f800"/><polygon points="1070.4,918 1077,918 1079,921.5 1068.4,921.5" fill="#fff"/><polygon points="1090.4,898.1 1099.4,913.9 1081.4,913.9" fill="#40f800"/><polygon points="1087.1,908.6 1093.7,908.6 1095.7,912.1 1085.1,912.1" fill="#fff"/><polygon points="1103.1,888.4 1112.1,904.2 1094.1,904.2" fill="#40f800"/><polygon points="1099.8,898.9 1106.4,898.9 1108.4,902.4 1097.8,902.4" fill="#fff"/><polygon points="1114.3,879 1123.3,894.8 1105.3,894.8" fill="#40f800"/><polygon points="1111,889.5 1117.6,889.5 1119.6,893 1109,893" fill="#fff"/><polygon points="1123.7,869.5 1132.7,885.3 1114.7,885.3" fill="#40f800"/><polygon points="1120.4,880 1127,880 1129,883.5 1118.4,883.5" fill="#fff"/><polygon points="1132.3,860.1 1141.3,875.9 1123.3,875.9" fill="#40f800"/><polygon points="1129,870.6 1135.6,870.6 1137.6,874.1 1127,874.1" fill="#fff"/><polygon points="1138.3,850.7 1147.3,866.5 1129.3,866.5" fill="#40f800"/><polygon points="1135,861.2 1141.6,861.2 1143.6,864.7 1133,864.7" fill="#fff"/><polygon points="1142.6,841.2 1151.6,857 1133.6,857" fill="#40f800"/><polygon points="1139.3,851.7 1145.9,851.7 1147.9,855.2 1137.3,855.2" fill="#fff"/><polygon points="1146.9,831.8 1155.9,847.6 1137.9,847.6" fill="#40f800"/><polygon points="1143.6,842.3 1150.2,842.3 1152.2,845.8 1141.6,845.8" fill="#fff"/><polygon points="1151.1,822.4 1160.1,838.2 1142.1,838.2" fill="#40f800"/><polygon points="1147.8,832.9 1154.4,832.9 1156.4,836.4 1145.8,836.4" fill="#fff"/><polygon points="1156.3,813 1165.3,828.8 1147.3,828.8" fill="#40f800"/><polygon points="1153,823.5 1159.6,823.5 1161.6,827 1151,827" fill="#fff"/><polygon points="1164.9,804.4 1173.9,820.2 1155.9,820.2" fill="#40f800"/><polygon points="1161.6,814.9 1168.2,814.9 1170.2,818.4 1159.6,818.4" fill="#fff"/><polygon points="1174.3,795.8 1183.3,811.6 1165.3,811.6" fill="#40f800"/><polygon points="1171,806.3 1177.6,806.3 1179.6,809.8 1169,809.8" fill="#fff"/><polygon points="1185.4,786.4 1194.4,802.2 1176.4,802.2" fill="#40f800"/><polygon points="1182.1,796.9 1188.7,796.9 1190.7,800.4 1180.1,800.4" fill="#fff"/>
</g>
<path d="M574.5 1251h6M574.5 1204.2h11.5M574.5 1157.5h6M574.5 1110.7h11.5M574.5 1064h6M574.5 1017.2h11.5M574.5 970.5h6M574.5 923.7h11.5M574.5 877h6M574.5 830.2h11.5M574.5 783.5h6M601.3 1297.2v-4.8M617.3 1297.2v-4.8M628.6 1297.2v-4.8M637.4 1297.2v-4.8M644.6 1297.2v-4.8M650.7 1297.2v-4.8M656 1297.2v-4.8M660.6 1297.2v-4.8M664.8 1297.2v-10M692.2 1297.2v-4.8M708.2 1297.2v-4.8M719.5 1297.2v-4.8M728.3 1297.2v-4.8M735.5 1297.2v-4.8M741.6 1297.2v-4.8M746.9 1297.2v-4.8M751.5 1297.2v-4.8M755.7 1297.2v-10M783.1 1297.2v-4.8M799.1 1297.2v-4.8M810.4 1297.2v-4.8M819.2 1297.2v-4.8M826.4 1297.2v-4.8M832.5 1297.2v-4.8M837.8 1297.2v-4.8M842.4 1297.2v-4.8M846.6 1297.2v-10M874 1297.2v-4.8M890 1297.2v-4.8M901.3 1297.2v-4.8M910.1 1297.2v-4.8M917.3 1297.2v-4.8M923.4 1297.2v-4.8M928.7 1297.2v-4.8M933.3 1297.2v-4.8M937.5 1297.2v-10M964.9 1297.2v-4.8M980.9 1297.2v-4.8M992.2 1297.2v-4.8M1001 1297.2v-4.8M1008.2 1297.2v-4.8M1014.3 1297.2v-4.8M1019.6 1297.2v-4.8M1024.2 1297.2v-4.8M1028.4 1297.2v-10M1055.8 1297.2v-4.8M1071.8 1297.2v-4.8M1083.1 1297.2v-4.8M1091.9 1297.2v-4.8M1099.1 1297.2v-4.8M1105.2 1297.2v-4.8M1110.5 1297.2v-4.8M1115.1 1297.2v-4.8M1119.3 1297.2v-10M1146.7 1297.2v-4.8M1162.7 1297.2v-4.8M1174 1297.2v-4.8M1182.8 1297.2v-4.8M1190 1297.2v-4.8M1196.1 1297.2v-4.8M1201.4 1297.2v-4.8M1206 1297.2v-4.8M1210.2 1297.2v-10M1237.6 1297.2v-4.8M1253.6 1297.2v-4.8M1264.9 1297.2v-4.8" stroke="#0d0d0d" stroke-width="1.8" fill="none"/>
<rect x="574.5" y="736.6" width="699.9" height="560.6" fill="none" stroke="#0d0d0d" stroke-width="2"/>
<text class="tk" x="491.7" y="1308.7" textLength="68.7" lengthAdjust="spacingAndGlyphs">−0.6</text>
<text class="tk" x="491.7" y="1215.2" textLength="68.7" lengthAdjust="spacingAndGlyphs">−0.4</text>
<text class="tk" x="491.7" y="1121.7" textLength="68.7" lengthAdjust="spacingAndGlyphs">−0.2</text>
<text class="tk" x="513.9" y="1028.2" textLength="46.5" lengthAdjust="spacingAndGlyphs">0.0</text>
<text class="tk" x="513.9" y="934.7" textLength="46.5" lengthAdjust="spacingAndGlyphs">0.2</text>
<text class="tk" x="513.9" y="841.2" textLength="46.5" lengthAdjust="spacingAndGlyphs">0.4</text>
<text class="tk" x="513.9" y="747.7" textLength="46.5" lengthAdjust="spacingAndGlyphs">0.6</text>
<text class="tk" x="541.6" y="1343.6" textLength="64.5" lengthAdjust="spacingAndGlyphs">10<tspan class="sup" dy="-15">−9</tspan></text>
<text class="tk" x="723.5" y="1343.6" textLength="64.5" lengthAdjust="spacingAndGlyphs">10<tspan class="sup" dy="-15">−7</tspan></text>
<text class="tk" x="905.2" y="1343.6" textLength="64.5" lengthAdjust="spacingAndGlyphs">10<tspan class="sup" dy="-15">−5</tspan></text>
<text class="tk" x="1087.1" y="1343.6" textLength="64.5" lengthAdjust="spacingAndGlyphs">10<tspan class="sup" dy="-15">−3</tspan></text>
<text class="ax" x="675.4" y="1390.2" textLength="491.2" lengthAdjust="spacingAndGlyphs">Current density (A/cm²)</text>
<text class="ax" transform="translate(473.5 1227.8) rotate(-90)" textLength="415.5" lengthAdjust="spacingAndGlyphs">Potential (V vs SCE)</text>
<text class="pl" x="420" y="761.5" textLength="70" lengthAdjust="spacingAndGlyphs">(c)</text>
<path d="M615.4 770.7H680.6" stroke="#ff2010" stroke-width="2.1"/>
<rect x="640.7" y="763.4" width="14.6" height="14.6" fill="#ff2010"/><rect x="643.1" y="771.3" width="9.8" height="4.3" fill="#fff"/>
<text class="lg" x="686.7" y="779.3" textLength="60.3" lengthAdjust="spacingAndGlyphs">30°C</text>
<path d="M615.4 807.2H680.6" stroke="#40f800" stroke-width="2.1"/>
<polygon points="648,796.7 657,812.5 639,812.5" fill="#40f800"/><polygon points="644.7,807.2 651.3,807.2 653.3,810.7 642.7,810.7" fill="#fff"/>
<text class="lg" x="686.7" y="815.6" textLength="60.3" lengthAdjust="spacingAndGlyphs">50°C</text>
<path d="M615.4 841.9H680.6" stroke="#000000" stroke-width="2.1"/>
<polygon points="648,831.7 657.7,841.9 648,852.1 638.3,841.9" fill="#000000"/><polygon points="653.5,842.6 648,848.6 642.5,842.6" fill="#fff"/>
<text class="lg" x="686.7" y="852.1" textLength="147" lengthAdjust="spacingAndGlyphs">Bare sample</text>
<text class="nc" x="1006.2" y="1272.5" textLength="257" lengthAdjust="spacingAndGlyphs">BS+3 g/L H<tspan class="sc" dy="8">3</tspan><tspan dy="-8">PO</tspan><tspan class="sc" dy="8">4</tspan></text>
</g>
</g>
</svg></body></html>
